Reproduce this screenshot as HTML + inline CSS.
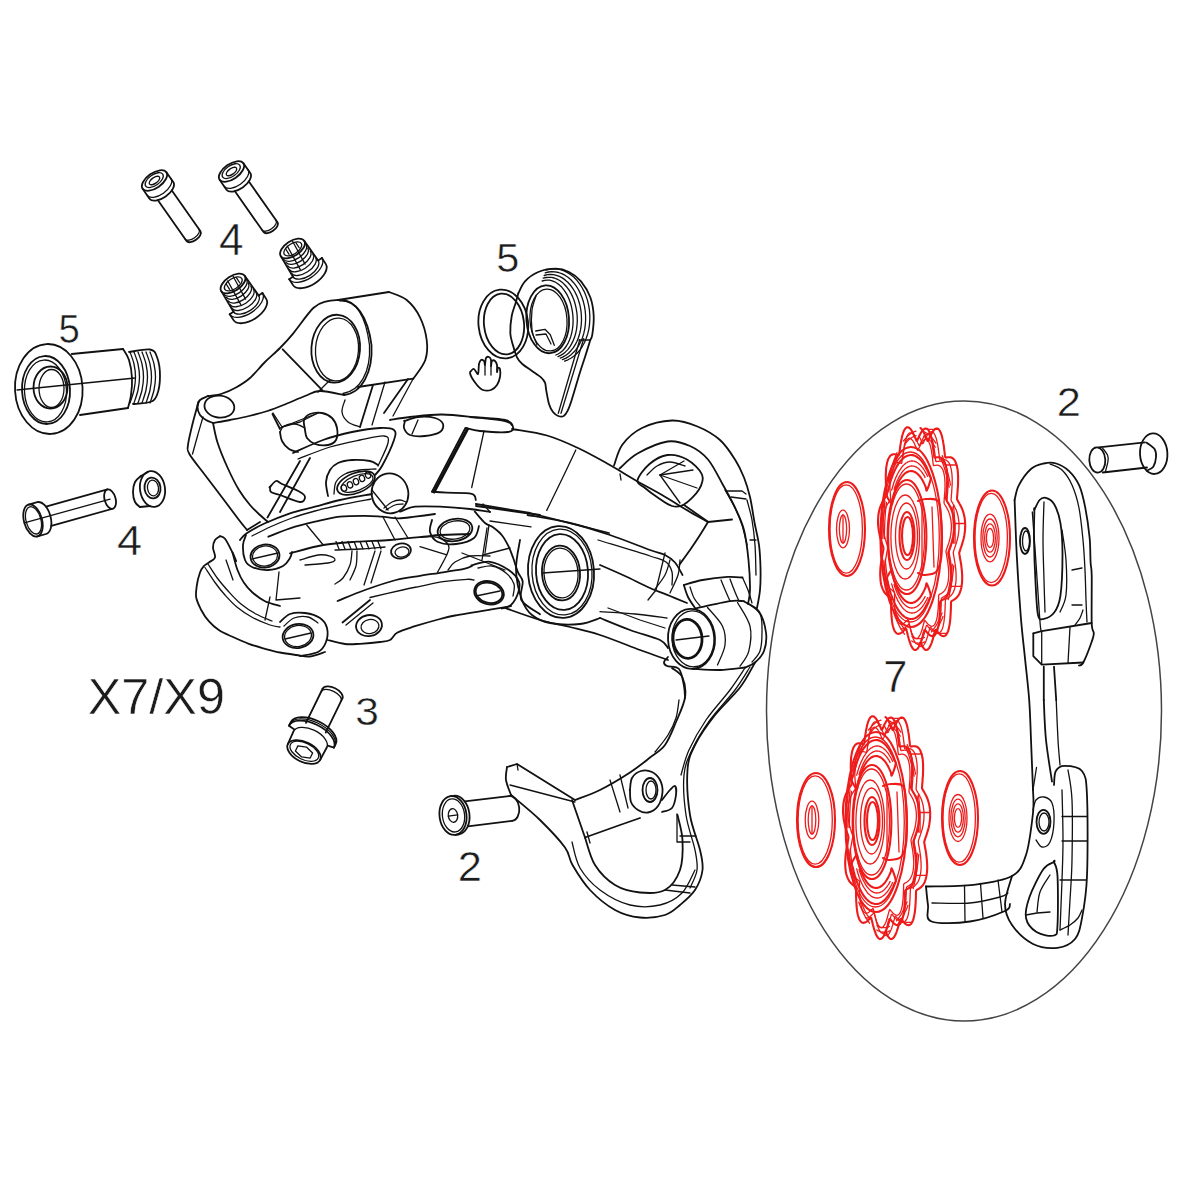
<!DOCTYPE html>
<html><head><meta charset="utf-8"><style>
html,body{margin:0;padding:0;background:#fff;width:1200px;height:1200px;overflow:hidden}
svg{display:block}
text{font-family:"Liberation Sans",sans-serif;fill:#1c1c1c}
.lb{stroke:#fff;stroke-width:0.5px;vector-effect:non-scaling-stroke}
.k{fill:none;stroke:#111;stroke-width:1.8;stroke-linejoin:round;stroke-linecap:round}
.r{fill:none;stroke:#ee1b1b;stroke-width:2.1;stroke-linejoin:round;stroke-linecap:round}
.t{stroke-width:1.3}
.thin{stroke:#444;stroke-width:1.5}
</style></head><body>
<svg width="1200" height="1200" viewBox="0 0 1200 1200">
<ellipse class="k thin" cx="964" cy="711" rx="197.5" ry="310"/>
<path class="r" d="M920.5,428 L921,428.5 L921.6,429.1 L922.1,429.8 L922.7,430.6 L923.2,431.5 L923.8,432.5 L924.3,433.5 L924.8,434.6 L925.3,435.7 L925.8,436.9 L926.3,438 L926.8,439.1 L927.2,440.1 L927.7,441 L928.1,440.4 L928.6,439.5 L929.1,438.5 L929.6,437.4 L930.1,436.3 L930.6,435.3 L931.2,434.3 L931.7,433.3 L932.3,432.4 L932.8,431.5 L933.4,430.8 L933.9,430.1 L934.5,429.5 L935.1,429.1 L935.6,428.8 L936.2,428.6 L936.7,428.5 L937.3,428.5 L937.8,428.7 L938.4,429.1 L938.9,429.5 L939.4,430.1 L939.8,430.9 L940.3,431.7 L940.8,432.7 L941.2,433.8 L941.6,435 L942,436.4 L942.3,437.8 L942.6,439.2 L943,440.8 L943.2,442.4 L943.5,444.1 L943.8,445.8 L944,447.5 L944.2,449.3 L944.4,451 L944.6,452.7 L944.8,454.4 L945,456 L945.3,457.4 L945.8,457.6 L946.3,457.5 L946.9,457.4 L947.6,457.3 L948.2,457.3 L948.8,457.2 L949.4,457.2 L950.1,457.2 L950.7,457.4 L951.3,457.5 L951.9,457.8 L952.5,458.1 L953.1,458.6 L953.7,459.1 L954.2,459.7 L954.7,460.5 L955.2,461.3 L955.6,462.2 L956,463.3 L956.4,464.4 L956.8,465.6 L957.1,466.9 L957.3,468.3 L957.6,469.7 L957.8,471.3 L957.9,472.9 L958,474.5 L958.1,476.3 L958.1,478 L958.1,479.8 L958.1,481.6 L958,483.4 L958,485.3 L957.9,487.1 L957.7,488.9 L957.6,490.8 L957.5,492.5 L957.3,494.3 L957.2,496 L957,497.7 L957,499.2 L957.4,500.1 L957.9,501 L958.4,501.9 L959,502.8 L959.5,503.7 L960.1,504.7 L960.6,505.7 L961.1,506.7 L961.6,507.8 L962.1,508.9 L962.6,510.1 L963,511.4 L963.4,512.7 L963.8,514 L964.1,515.4 L964.4,516.8 L964.7,518.3 L964.9,519.8 L965,521.3 L965.1,522.8 L965.2,524.4 L965.2,526 L965.1,527.6 L965.1,529.2 L964.9,530.8 L964.8,532.3 L964.5,533.9 L964.3,535.5 L964,537 L963.7,538.5 L963.3,540 L962.9,541.4 L962.5,542.8 L962.1,544.2 L961.6,545.6 L961.2,546.9 L960.7,548.1 L960.3,549.4 L959.9,550.6 L959.5,551.8 L959.2,553 L959.4,554.5 L959.7,556 L959.9,557.6 L960.2,559.2 L960.5,560.8 L960.8,562.5 L961.1,564.2 L961.3,565.9 L961.5,567.7 L961.7,569.4 L961.9,571.1 L962,572.9 L962.1,574.6 L962.2,576.3 L962.2,578 L962.2,579.6 L962.1,581.3 L962,582.8 L961.8,584.4 L961.6,585.8 L961.4,587.2 L961.1,588.6 L960.8,589.8 L960.4,591 L960,592.2 L959.6,593.2 L959.1,594.2 L958.6,595.1 L958.1,595.9 L957.5,596.6 L956.9,597.3 L956.4,597.9 L955.7,598.4 L955.1,598.9 L954.5,599.3 L953.9,599.7 L953.3,600.1 L952.7,600.4 L952.1,600.7 L951.6,601.1 L951.1,601.8 L951,603.4 L951,605.1 L950.9,606.9 L950.9,608.7 L950.8,610.5 L950.7,612.4 L950.6,614.2 L950.5,616 L950.4,617.8 L950.2,619.6 L950.1,621.3 L949.8,623 L949.6,624.6 L949.3,626.1 L949,627.6 L948.7,628.9 L948.4,630.2 L948,631.3 L947.6,632.3 L947.1,633.2 L946.7,634 L946.2,634.7 L945.7,635.2 L945.1,635.7 L944.6,635.9 L944,636.1 L943.4,636.2 L942.9,636.1 L942.3,635.9 L941.7,635.7 L941.1,635.3 L940.4,634.9 L939.8,634.3 L939.2,633.8 L938.6,633.1 L938.1,632.5 L937.5,631.8 L936.9,631.1 L936.4,630.5 L935.8,629.9 L935.4,630 L935,631.2 L934.6,632.5 L934.2,633.9 L933.9,635.4 L933.5,636.8 L933.1,638.2 L932.7,639.7 L932.2,641 L931.8,642.3 L931.3,643.6 L930.8,644.7 L930.4,645.8 L929.9,646.7 L929.4,647.6 L928.9,648.3 L928.3,648.9 L927.8,649.4 L927.3,649.7 L926.7,649.9 L926.2,650 L925.7,649.9 L925.1,649.7 L924.6,649.3 L924.1,648.8 L923.6,648.1 L923.1,647.4 L922.6,646.5 L922.1,645.5 L921.6,644.4 L921.2,643.2 L920.7,641.9"/><path class="r" d="M953,537 L952.6,538.7 L952.2,540.3 L951.8,542 L951.3,543.5 L950.8,545.1 L950.3,546.5 L949.8,548 L949.3,549.4 L948.8,550.7 L948.4,552.1 L948.3,553.6 L948.5,555.3 L948.8,557 L949.2,558.8 L949.5,560.6 L949.8,562.5 L950.1,564.4 L950.4,566.4 L950.6,568.3 L950.8,570.3 L951,572.2 L951.1,574.2 L951.2,576.1 L951.2,578 L951.2,579.8 L951.1,581.7 L950.9,583.4 L950.8,585.1 L950.5,586.7 L950.2,588.2 L949.8,589.7 L949.4,591 L949,592.3 L948.5,593.5 L947.9,594.5 L947.3,595.5 L946.7,596.4 L946.1,597.1 L945.4,597.8 L944.7,598.4 L944.1,599 L943.4,599.4 L942.7,599.8 L942,600.2 L941.3,600.6 L940.7,601 L940.2,601.6 L940,603.4 L940,605.3 L939.9,607.3 L939.8,609.4 L939.8,611.4 L939.7,613.5 L939.6,615.6 L939.4,617.6 L939.2,619.6 L939,621.6 L938.8,623.4 L938.5,625.2 L938.2,626.9 L937.8,628.4 L937.5,629.9 L937,631.2 L936.6,632.3 L936.1,633.3 L935.5,634.2 L935,634.9 L934.4,635.5 L933.8,635.9 L933.2,636.1 L932.5,636.2 L931.9,636.1 L931.2,635.9 L930.5,635.6 L929.8,635.1 L929.1,634.6 L928.5,634 L927.8,633.3 L927.1,632.6 L926.5,631.8 L925.8,631 L925.2,630.3 L924.6,629.8 L924.2,630.6 L923.8,632 L923.3,633.6 L922.9,635.2 L922.5,636.8 L922,638.4 L921.5,640 L921.1,641.5 L920.6,642.9 L920,644.3 L919.5,645.5 L918.9,646.6 L918.4,647.6 L917.8,648.4 L917.2,649 L916.6,649.5 L916,649.8 L915.4,650 L914.8,649.9 L914.2,649.7 L913.6,649.3 L913,648.7 L912.4,648 L911.9,647.1 L911.3,646 L910.8,644.8 L910.3,643.5 L909.8,642.1 L909.3,640.6 L908.8,639 L908.4,637.4 L907.9,635.7 L907.5,634 L907.1,632.3 L906.7,630.7 L906.4,629.3 L905.9,628.6 L905.3,629.1 L904.7,629.7 L904,630.4 L903.3,631 L902.7,631.7 L902,632.3 L901.3,632.8 L900.6,633.2 L899.9,633.6 L899.2,633.8 L898.6,633.9 L897.9,633.8 L897.3,633.7 L896.6,633.3 L896,632.8 L895.5,632.2 L894.9,631.4 L894.4,630.5 L893.9,629.4 L893.5,628.1 L893.1,626.8 L892.7,625.3 L892.4,623.6 L892.1,621.9 L891.9,620.1 L891.7,618.2 L891.5,616.2 L891.4,614.2 L891.2,612.1 L891.2,610.1 L891.1,608 L891.1,605.9 L891,603.8 L891,601.8 L890.9,599.9 L890.9,598.2 L890.3,597.6 L889.7,597.1 L889,596.6 L888.3,596.2 L887.6,595.6 L886.9,595.1 L886.3,594.4 L885.6,593.7 L884.9,593 L884.3,592.1 L883.7,591.1 L883.2,590.1 L882.6,588.9 L882.2,587.7 L881.7,586.4 L881.3,585 L881,583.5 L880.7,581.9 L880.5,580.2 L880.4,578.5 L880.3,576.7 L880.2,574.9 L880.2,573 L880.3,571.1 L880.4,569.2 L880.5,567.3 L880.7,565.4 L881,563.4 L881.3,561.5 L881.6,559.6 L881.9,557.8 L882.2,555.9 L882.6,554.2 L882.9,552.4 L883.2,550.7 L883.5,549.1 L883.4,547.6 L883,546.2 L882.5,544.8 L882,543.3 L881.5,541.8 L881.1,540.2 L880.6,538.6 L880.1,537 L879.7,535.3 L879.4,533.6 L879,531.9 L878.7,530.1 L878.5,528.3 L878.3,526.5 L878.1,524.7 L878,522.9 L878,521.1 L878.1,519.3 L878.2,517.6 L878.3,515.9 L878.5,514.2 L878.8,512.5 L879.1,511 L879.5,509.4 L879.9,508 L880.4,506.6 L880.9,505.3 L881.5,504 L882,502.8 L882.6,501.7 L883.3,500.6 L883.9,499.6 L884.5,498.6 L885.1,497.7 L885.7,496.8 L886.3,495.9 L886.6,494.7 L886.6,492.9 L886.4,491 L886.3,489 L886.2,487 L886,484.9 L885.9,482.8 L885.9,480.7 L885.8,478.7 L885.8,476.6 L885.8,474.6 L885.9,472.6 L886,470.7 L886.1,468.8 L886.3,467.1 L886.6,465.4 L886.9,463.8 L887.2,462.3 L887.6,461 L888,459.7 L888.5,458.6 L889,457.6 L889.6,456.8 L890.1,456 L890.8,455.4 L891.4,455 L892.1,454.6 L892.8,454.4 L893.5,454.3 L894.2,454.2 L894.9,454.3 L895.6,454.4 L896.3,454.6 L897,454.8 L897.7,455 L898.3,455.1 L898.9,455.1 L899.2,453.7 L899.5,451.9 L899.8,450.1 L900,448.2 L900.3,446.2 L900.6,444.3 L900.9,442.4 L901.2,440.6 L901.6,438.8 L901.9,437.1 L902.3,435.5 L902.8,434 L903.2,432.6 L903.7,431.4 L904.2,430.3 L904.7,429.4 L905.3,428.6 L905.9,428 L906.4,427.6 L907,427.3 L907.7,427.3 L908.3,427.4 L908.9,427.6 L909.5,428.1 L910.2,428.6 L910.8,429.4 L911.4,430.2 L912,431.2 L912.6,432.3 L913.2,433.4 L913.8,434.6 L914.4,435.9 L914.9,437.1 L915.5,438.4 L916,439.6 L916.5,440.7 L917,440.6 L917.6,439.6 L918.1,438.5 L918.7,437.3 L919.2,436.1 L919.8,434.9 L920.4,433.8 L921,432.7 L921.7,431.7 L922.3,430.9 L922.9,430.1 L923.6,429.5 L924.2,429 L924.8,428.7 L925.5,428.5 L926.1,428.5 L926.7,428.7 L927.3,429 L927.9,429.5 L928.4,430.2 L929,431.1 L929.5,432.1 L930,433.3 L930.4,434.6 L930.9,436 L931.3,437.6 L931.6,439.2 L932,441 L932.3,442.8 L932.6,444.7 L932.9,446.7 L933.1,448.6 L933.4,450.6 L933.6,452.5 L933.8,454.4 L934.1,456.2 L934.4,457.5 L935,457.6 L935.6,457.5 L936.3,457.4 L937,457.3 L937.7,457.2 L938.4,457.2 L939.2,457.3 L939.9,457.4 L940.6,457.6 L941.2,458 L941.9,458.4 L942.5,459 L943.1,459.7 L943.7,460.5 L944.2,461.4 L944.7,462.5 L945.2,463.7 L945.6,465 L946,466.4 L946.3,467.9 L946.5,469.6 L946.8,471.3 L946.9,473.1 L947,475 L947.1,476.9 L947.1,478.9 L947.1,480.9 L947.1,483 L947,485 L946.9,487.1 L946.7,489.2 L946.6,491.2 L946.4,493.2 L946.2,495.2 L946.1,497 L946,498.8 L946.4,500 L946.9,501 L947.5,502 L948.1,503 L948.7,504 L949.3,505.1 L949.9,506.3 L950.5,507.5 L951.1,508.8 L951.6,510.1 L952.1,511.5 L952.5,513 L952.9,514.5 L953.3,516.1 L953.6,517.7 L953.8,519.4 L954,521.1 L954.1,522.8 L954.2,524.6 L954.2,526.4 L954.1,528.2 L954,530 L953.8,531.8 L953.6,533.5 L953.3,535.3Z"/><path class="r t" d="M902.7,456.7 L903,455.2 L903.2,453.6 L903.4,452 L903.6,450.4 L903.9,448.8 L904.1,447.2 L904.4,445.6 L904.7,444.1 L905,442.6 L905.3,441.2 L905.7,439.9 L906.1,438.7 L906.5,437.6 L906.9,436.5 L907.3,435.6 L907.7,434.8 L908.2,434.2 L908.7,433.6 L909.2,433.2 L909.7,432.9 L910.2,432.8 L910.7,432.8 L911.2,432.9 L911.8,433.1 L912.3,433.5 L912.8,433.9 L913.4,434.5 L913.9,435.2 L914.4,436 L914.9,436.8 L915.4,437.7 L915.9,438.7 L916.4,439.7 L916.9,440.8 L917.4,441.9 L917.8,442.9 L918.3,444 L918.7,444.9 L919.1,445.8 L919.6,445.2 L920,444.3 L920.5,443.4 L921,442.4 L921.5,441.4 L922,440.4 L922.5,439.4 L923,438.5 L923.5,437.6 L924,436.8 L924.5,436.1 L925.1,435.5 L925.6,434.9 L926.2,434.5 L926.7,434.2 L927.2,434 L927.8,433.9 L928.3,434 L928.8,434.2 L929.3,434.5 L929.8,434.9 L930.2,435.5 L930.7,436.2 L931.1,437 L931.6,437.9 L932,439 L932.3,440.1 L932.7,441.4 L933,442.7 L933.4,444.1 L933.7,445.6 L933.9,447.2 L934.2,448.7 L934.4,450.4 L934.6,452 L934.9,453.7 L935.1,455.3 L935.2,456.9 L935.4,458.5 L935.6,460 L935.8,461.4 L936.3,461.5 L936.9,461.5 L937.4,461.4 L938,461.3 L938.6,461.3 L939.2,461.2 L939.8,461.2 L940.4,461.2 L941,461.3 L941.6,461.5 L942.2,461.8 L942.8,462.1 L943.3,462.5 L943.8,463 L944.3,463.6 L944.8,464.3 L945.3,465.1 L945.7,466 L946.1,466.9 L946.5,468 L946.8,469.2 L947.1,470.4 L947.3,471.7 L947.5,473.1 L947.7,474.6 L947.9,476.1 L948,477.7 L948,479.3 L948.1,481 L948.1,482.7 L948,484.4 L948,486.1 L947.9,487.9 L947.8,489.6 L947.7,491.3 L947.6,493.1 L947.4,494.8 L947.3,496.4 L947.2,498.1 L947,499.6 L947,501.1 L947.4,501.9 L947.9,502.8 L948.4,503.6 L948.9,504.5 L949.4,505.4 L949.9,506.3 L950.4,507.2 L950.9,508.2 L951.4,509.3 L951.9,510.3 L952.3,511.5 L952.7,512.7 L953.1,513.9 L953.4,515.2 L953.8,516.5 L954,517.8 L954.3,519.2 L954.5,520.6 L954.6,522.1 L954.7,523.5 L954.8,525 L954.8,526.5 L954.7,528 L954.7,529.6 L954.5,531.1 L954.4,532.6 L954.2,534.1 L953.9,535.5 L953.6,537 L953.3,538.4 L953,539.8 L952.6,541.2 L952.2,542.5 L951.8,543.9 L951.4,545.1 L951,546.4 L950.6,547.6 L950.1,548.8 L949.7,549.9 L949.4,551 L949.1,552.2 L949.3,553.6 L949.5,555.1 L949.8,556.6 L950.1,558.1 L950.3,559.7 L950.6,561.2 L950.8,562.8 L951.1,564.5 L951.3,566.1 L951.5,567.8 L951.6,569.4 L951.8,571.1 L951.9,572.7 L951.9,574.3 L951.9,575.9 L951.9,577.5 L951.9,579 L951.7,580.5 L951.6,582 L951.4,583.4 L951.2,584.7 L950.9,586 L950.6,587.2 L950.3,588.3 L949.9,589.4 L949.5,590.4 L949,591.3 L948.5,592.2 L948,593 L947.5,593.7 L946.9,594.3 L946.4,594.9 L945.8,595.4 L945.2,595.8 L944.6,596.2 L944.1,596.6 L943.5,596.9 L942.9,597.2 L942.4,597.6 L941.8,597.9 L941.4,598.6 L941.3,600.1 L941.3,601.7 L941.2,603.4 L941.2,605.1 L941.1,606.8 L941,608.6 L941,610.3 L940.8,612.1 L940.7,613.8 L940.6,615.5 L940.4,617.1 L940.2,618.7 L940,620.2 L939.7,621.7 L939.4,623 L939.1,624.3 L938.8,625.5 L938.4,626.6 L938,627.6 L937.6,628.4 L937.2,629.2 L936.7,629.8 L936.2,630.3 L935.7,630.7 L935.2,631 L934.7,631.2 L934.1,631.2 L933.6,631.2 L933,631 L932.4,630.7 L931.8,630.4 L931.3,630 L930.7,629.5 L930.1,628.9 L929.6,628.3 L929,627.7 L928.4,627.1 L927.9,626.4 L927.4,625.8 L926.9,625.3 L926.4,625.4 L926.1,626.5 L925.7,627.8 L925.4,629.1 L925,630.5 L924.7,631.8 L924.3,633.2 L923.9,634.5 L923.5,635.8 L923,637.1 L922.6,638.2 L922.2,639.3 L921.7,640.3 L921.2,641.2 L920.7,642.1 L920.3,642.7 L919.8,643.3 L919.3,643.8 L918.8,644.1 L918.2,644.3 L917.7,644.3 L917.2,644.2 L916.7,644 L916.2,643.7 L915.7,643.2 L915.2,642.6 L914.8,641.9 L914.3,641 L913.8,640.1 L913.4,639 L912.9,637.9 L912.5,636.7 L912.1,635.4 L911.7,634.1 L911.3,632.7 L911,631.3 L910.6,629.9 L910.3,628.4 L910,627.1 L909.6,625.7 L909.3,624.5 L908.9,624 L908.4,624.4 L907.9,624.9 L907.3,625.5 L906.8,626 L906.2,626.6 L905.6,627.1 L905,627.6 L904.5,628.1 L903.9,628.4 L903.3,628.7 L902.7,628.9 L902.1,629 L901.6,629 L901,628.9 L900.5,628.7"/><path class="r t" d="M919,435.9 L919.5,436.8 L919.9,437.8 L920.4,438.9 L920.9,439.9 L921.3,441 L921.8,442 L922.2,442.9 L922.6,443.7 L923,443.5 L923.5,442.6 L923.9,441.7 L924.4,440.8 L924.8,439.8 L925.3,438.8 L925.8,437.8 L926.3,436.9 L926.8,436 L927.3,435.2 L927.8,434.5 L928.3,433.8 L928.8,433.2 L929.4,432.7 L929.9,432.3 L930.4,432 L930.9,431.8 L931.4,431.7 L931.9,431.8 L932.4,432 L932.9,432.2 L933.4,432.6 L933.9,433.2 L934.3,433.8 L934.7,434.5 L935.1,435.4 L935.5,436.4 L935.9,437.4 L936.3,438.6 L936.6,439.8 L936.9,441.2 L937.2,442.6 L937.5,444 L937.8,445.5 L938,447.1 L938.3,448.6 L938.5,450.2 L938.7,451.8 L938.9,453.4 L939.1,455 L939.3,456.6 L939.4,458 L939.6,459.4 L940,459.9 L940.5,459.9 L941.1,459.9 L941.6,459.8 L942.2,459.7 L942.8,459.6 L943.4,459.6 L944,459.6 L944.5,459.7 L945.1,459.8 L945.7,459.9 L946.2,460.2 L946.8,460.5 L947.3,460.9 L947.8,461.4 L948.3,462 L948.8,462.6 L949.3,463.4 L949.7,464.2 L950.1,465.2 L950.4,466.2 L950.7,467.3 L951,468.4 L951.3,469.7 L951.5,471 L951.7,472.4 L951.9,473.8 L952,475.3 L952.1,476.8 L952.2,478.4 L952.2,480 L952.2,481.7 L952.2,483.4 L952.1,485 L952,486.7 L951.9,488.4 L951.8,490.1 L951.7,491.8 L951.6,493.4 L951.4,495.1 L951.3,496.7 L951.2,498.2 L951.1,499.7 L951.3,500.8 L951.7,501.6 L952.2,502.4 L952.7,503.2 L953.2,504.1 L953.7,504.9 L954.2,505.8 L954.7,506.7 L955.1,507.7 L955.6,508.7 L956.1,509.8 L956.5,510.9 L956.9,512 L957.3,513.2 L957.6,514.4 L957.9,515.7 L958.2,517 L958.4,518.3 L958.6,519.7 L958.8,521.1 L958.9,522.5 L959,523.9 L959,525.4 L959,526.9 L959,528.3 L958.9,529.8 L958.8,531.3 L958.6,532.7 L958.4,534.2 L958.2,535.6 L957.9,537 L957.6,538.4 L957.3,539.8 L956.9,541.1 L956.5,542.4 L956.1,543.7 L955.7,544.9 L955.3,546.1 L954.9,547.3 L954.5,548.5 L954.1,549.6 L953.7,550.7 L953.4,551.8 L953.3,553 L953.5,554.4 L953.7,555.8 L954,557.3 L954.3,558.8 L954.5,560.3 L954.8,561.8 L955,563.4 L955.3,565 L955.5,566.6 L955.6,568.2 L955.8,569.8 L955.9,571.4 L956,573 L956.1,574.5 L956.1,576.1 L956.1,577.6 L956.1,579.2 L956,580.6 L955.9,582.1 L955.7,583.4 L955.5,584.8 L955.3,586.1 L955,587.3 L954.7,588.4 L954.4,589.5 L954,590.6 L953.6,591.5 L953.2,592.4 L952.7,593.3 L952.2,594 L951.7,594.7 L951.2,595.3 L950.6,595.9 L950.1,596.4 L949.5,596.9 L949,597.3 L948.4,597.6 L947.8,598 L947.3,598.3 L946.7,598.6 L946.2,598.9 L945.7,599.3 L945.4,600.2 L945.3,601.7 L945.3,603.2 L945.2,604.9 L945.1,606.5 L945.1,608.2 L945,609.9 L944.9,611.6 L944.8,613.3 L944.7,615 L944.6,616.6 L944.4,618.2 L944.2,619.8 L944,621.3 L943.8,622.7 L943.5,624.1 L943.3,625.4 L943,626.6 L942.6,627.7 L942.3,628.7 L941.9,629.7 L941.5,630.5 L941,631.2 L940.6,631.8 L940.1,632.3 L939.6,632.7 L939.1,633 L938.6,633.1 L938.1,633.2 L937.5,633.2 L937,633 L936.4,632.8 L935.9,632.5 L935.3,632.1 L934.7,631.7 L934.2,631.2 L933.6,630.6 L933.1,630 L932.5,629.4 L932,628.8 L931.5,628.2 L931,627.6 L930.5,627.1 L930.1,627.3 L929.7,628.4 L929.4,629.6 L929.1,630.9 L928.7,632.2 L928.4,633.5 L928,634.9 L927.6,636.2 L927.2,637.4 L926.8,638.7 L926.4,639.8 L926,640.9 L925.5,642 L925.1,642.9 L924.6,643.7 L924.1,644.5 L923.7,645.1 L923.2,645.7 L922.7,646.1 L922.2,646.4 L921.7,646.5 L921.2,646.6 L920.7,646.5 L920.2,646.3 L919.7,646 L919.3,645.5 L918.8,645"/><path class="r t" d="M954.1,523.5 L965.1,523.5"/><path class="r t" d="M950.6,586.3 L961.6,586.3"/><path class="r t" d="M936,633.4 L947,633.4"/><path class="r t" d="M927.7,429.3 L938.7,429.3"/><path class="r t" d="M945.6,465 L956.6,465"/><path class="r t" d="M952,506.9 L952.5,511.3 L952.8,515.8 L953.1,520.3 L953.3,524.8 L953.5,529.4 L953.6,533.9 L953.6,538.5 L953.5,543.1"/><path class="r t" d="M953.5,505.6 L953.9,510.2 L954.3,514.9 L954.6,519.6 L954.9,524.3 L955,529 L955.1,533.8 L955.1,538.6 L955,543.4"/><path class="r t" d="M952.3,564.2 L951.9,568.6 L951.3,572.9 L950.8,577.2 L950.1,581.3 L949.4,585.4 L948.6,589.4 L947.8,593.3 L946.9,597"/><path class="r t" d="M953.8,565.5 L953.3,570 L952.8,574.5 L952.2,579 L951.5,583.3 L950.8,587.6 L950,591.7 L949.1,595.8 L948.2,599.7"/><path class="r t" d="M942,612.9 L940.8,615.9 L939.6,618.7 L938.3,621.3 L937,623.8 L935.7,626.1 L934.3,628.2 L932.9,630.1 L931.5,631.9"/><path class="r t" d="M943,616.3 L941.8,619.4 L940.5,622.3 L939.2,625.1 L937.8,627.6 L936.4,630 L935,632.3 L933.5,634.3 L932,636.1"/><path class="r t" d="M924.4,637.4 L922.9,638.1 L921.3,638.5 L919.8,638.7 L918.2,638.7 L916.7,638.5 L915.1,638.1 L913.6,637.4 L912,636.6"/><path class="r t" d="M924.7,641.9 L923,642.6 L921.4,643 L919.8,643.2 L918.2,643.2 L916.6,643 L914.9,642.5 L913.3,641.9 L911.7,641"/><path class="r t" d="M905.1,630.1 L903.7,628.2 L902.3,626.1 L901,623.8 L899.6,621.3 L898.4,618.6 L897.2,615.8 L896,612.9 L894.8,609.7"/><path class="r t" d="M904.5,634.2 L903,632.2 L901.6,630 L900.2,627.6 L898.8,625 L897.5,622.3 L896.2,619.3 L894.9,616.2 L893.8,613"/><path class="r t" d="M890.2,593.2 L889.4,589.3 L888.6,585.4 L887.9,581.3 L887.2,577.1 L886.6,572.9 L886.1,568.6 L885.7,564.2 L885.3,559.7"/><path class="r t" d="M888.9,595.7 L888,591.7 L887.2,587.5 L886.5,583.3 L885.8,578.9 L885.2,574.5 L884.7,570 L884.2,565.4 L883.8,560.8"/><path class="r t" d="M884.4,538.5 L884.4,533.9 L884.5,529.3 L884.7,524.8 L884.9,520.2 L885.2,515.7 L885.5,511.3 L886,506.9 L886.5,502.5"/><path class="r t" d="M882.9,538.5 L882.9,533.8 L883,529 L883.1,524.2 L883.4,519.5 L883.7,514.8 L884.1,510.1 L884.5,505.5 L885,501"/><path class="r t" d="M889.6,483.3 L890.5,479.4 L891.4,475.7 L892.4,472.1 L893.4,468.7 L894.5,465.3 L895.6,462.2 L896.8,459.1 L898,456.3"/><path class="r t" d="M888.3,480.9 L889.2,476.9 L890.2,473 L891.2,469.2 L892.3,465.6 L893.4,462.2 L894.5,458.8 L895.8,455.7 L897,452.7"/><path class="r t" d="M904.2,445.1 L905.6,443.2 L907.1,441.6 L908.5,440.1 L910,438.8 L911.5,437.7 L913.1,436.8 L914.6,436.1 L916.1,435.6"/><path class="r t" d="M903.5,441 L905,439.1 L906.5,437.3 L908.1,435.8 L909.6,434.4 L911.2,433.3 L912.8,432.4 L914.4,431.6 L916,431.1"/><path class="r t" d="M923.4,436.1 L925,436.8 L926.5,437.7 L928,438.8 L929.5,440.1 L931,441.6 L932.4,443.3 L933.8,445.1 L935.2,447.2"/><path class="r t" d="M923.6,431.7 L925.2,432.4 L926.8,433.3 L928.4,434.4 L930,435.8 L931.5,437.3 L933,439.1 L934.5,441.1 L935.9,443.2"/><path class="r t" d="M941.3,459.2 L942.4,462.2 L943.6,465.4 L944.6,468.7 L945.6,472.2 L946.6,475.8 L947.5,479.5 L948.4,483.3 L949.2,487.2"/><path class="r t" d="M942.3,455.7 L943.5,458.9 L944.6,462.2 L945.8,465.7 L946.8,469.3 L947.8,473 L948.8,476.9 L949.7,480.9 L950.5,485"/><path class="r t" d="M950.3,537 L950,538.5 L949.6,540 L949.2,541.5 L948.8,542.9 L948.3,544.3 L947.9,545.6 L947.4,546.9 L947,548.1 L946.5,549.4 L946.1,550.6 L946,551.9 L946.3,553.4 L946.6,555 L946.8,556.6 L947.1,558.3 L947.4,560 L947.7,561.7 L947.9,563.4 L948.1,565.2 L948.3,566.9 L948.5,568.7 L948.6,570.4 L948.7,572.2 L948.7,573.9 L948.7,575.6 L948.6,577.2 L948.5,578.8 L948.3,580.3 L948.1,581.7 L947.8,583.1 L947.5,584.4 L947.1,585.6 L946.7,586.8 L946.2,587.8 L945.7,588.8 L945.2,589.7 L944.7,590.4 L944.1,591.1 L943.5,591.7 L942.9,592.3 L942.3,592.8 L941.6,593.2 L941,593.6 L940.4,593.9 L939.8,594.2 L939.2,594.6 L938.7,595.2 L938.6,596.8 L938.6,598.5 L938.5,600.3 L938.5,602.1 L938.4,604 L938.3,605.9 L938.2,607.7 L938.1,609.6 L937.9,611.4 L937.7,613.1 L937.5,614.8 L937.3,616.4 L937,617.9 L936.7,619.3 L936.3,620.6 L935.9,621.8 L935.5,622.8 L935.1,623.7 L934.6,624.5 L934.1,625.1 L933.6,625.6 L933,626 L932.4,626.2 L931.9,626.3 L931.3,626.2 L930.7,626 L930.1,625.7 L929.4,625.3 L928.8,624.8 L928.2,624.3 L927.6,623.7 L927,623 L926.4,622.3 L925.9,621.6 L925.3,621 L924.8,620.5 L924.4,621.2 L924,622.5 L923.6,623.9 L923.2,625.4 L922.8,626.8 L922.4,628.3 L922,629.7 L921.6,631.1 L921.1,632.4 L920.6,633.6 L920.1,634.7 L919.6,635.7 L919.1,636.5 L918.6,637.3 L918.1,637.8 L917.5,638.3 L917,638.6 L916.5,638.7 L915.9,638.6 L915.4,638.4 L914.8,638.1 L914.3,637.5 L913.8,636.9 L913.3,636.1 L912.8,635.1 L912.3,634 L911.8,632.9 L911.4,631.6 L911,630.2 L910.5,628.8 L910.1,627.3 L909.8,625.8 L909.4,624.3 L909,622.8 L908.7,621.4 L908.3,620 L907.9,619.4 L907.4,619.9 L906.8,620.4 L906.2,621 L905.6,621.6 L905,622.2 L904.4,622.7 L903.8,623.2 L903.1,623.6 L902.5,623.9 L901.9,624.1 L901.3,624.2 L900.7,624.2 L900.1,624 L899.6,623.7 L899,623.3 L898.5,622.7 L898,622 L897.6,621.1 L897.1,620.1 L896.7,619 L896.4,617.8 L896.1,616.4 L895.8,615 L895.5,613.4 L895.3,611.8 L895.1,610.1 L894.9,608.3 L894.8,606.5 L894.7,604.6 L894.6,602.7 L894.6,600.9 L894.6,599 L894.5,597.2 L894.5,595.4 L894.5,593.6 L894.4,592.1 L893.9,591.5 L893.3,591.1 L892.7,590.7 L892.1,590.2 L891.5,589.8 L890.9,589.3 L890.2,588.7 L889.6,588.1 L889.1,587.4 L888.5,586.6 L888,585.7 L887.4,584.8 L887,583.8 L886.5,582.6 L886.2,581.4 L885.8,580.2 L885.5,578.8 L885.3,577.4 L885.1,575.9 L884.9,574.4 L884.8,572.8 L884.8,571.1 L884.8,569.4 L884.8,567.7 L884.9,566 L885.1,564.3 L885.3,562.5 L885.5,560.8 L885.7,559.1 L886,557.4 L886.3,555.7 L886.6,554.1 L886.9,552.4 L887.2,550.9 L887.5,549.3 L887.8,547.9 L887.6,546.5 L887.3,545.3 L886.8,544 L886.4,542.7 L886,541.3 L885.5,539.9 L885.1,538.5 L884.7,537 L884.4,535.5 L884,534 L883.7,532.4 L883.4,530.8 L883.2,529.2 L883,527.6 L882.9,525.9 L882.8,524.3 L882.8,522.7 L882.9,521.1 L882.9,519.5 L883.1,518 L883.3,516.5 L883.5,515 L883.8,513.6 L884.2,512.2 L884.5,510.9 L885,509.6 L885.4,508.4 L885.9,507.3 L886.4,506.2 L887,505.2 L887.5,504.2 L888.1,503.3 L888.7,502.5 L889.2,501.6 L889.7,500.8 L890.3,500 L890.6,498.9 L890.5,497.3 L890.4,495.6 L890.3,493.8 L890.2,492 L890,490.1 L889.9,488.2 L889.9,486.4 L889.8,484.5 L889.8,482.7 L889.8,480.8 L889.9,479.1 L890,477.3 L890.1,475.7 L890.3,474.1 L890.5,472.5 L890.8,471.1 L891.1,469.8 L891.4,468.6 L891.8,467.4 L892.2,466.4 L892.7,465.5 L893.2,464.8 L893.7,464.1 L894.3,463.6 L894.9,463.2 L895.5,462.9 L896.1,462.7 L896.7,462.5 L897.4,462.5 L898,462.6 L898.6,462.7 L899.3,462.8 L899.9,463 L900.5,463.2 L901.1,463.3 L901.6,463.3 L901.9,462 L902.2,460.4 L902.4,458.8 L902.6,457 L902.8,455.3 L903.1,453.6 L903.4,451.9 L903.7,450.2 L904,448.6 L904.3,447.1 L904.7,445.6 L905.1,444.3 L905.5,443.1 L905.9,441.9 L906.4,441 L906.9,440.1 L907.4,439.4 L907.9,438.9 L908.4,438.5 L908.9,438.3 L909.5,438.2 L910.1,438.3 L910.6,438.6 L911.2,439 L911.7,439.5 L912.3,440.1 L912.9,440.9 L913.4,441.8 L914,442.7 L914.5,443.8 L915,444.9 L915.5,446 L916,447.1 L916.5,448.3 L917,449.3 L917.5,450.3 L917.9,450.2 L918.4,449.3 L918.9,448.3 L919.4,447.2 L919.9,446.2 L920.4,445.1 L921,444.1 L921.5,443.1 L922.1,442.3 L922.7,441.5 L923.2,440.8 L923.8,440.2 L924.4,439.8 L925,439.5 L925.5,439.4 L926.1,439.4 L926.6,439.5 L927.2,439.8 L927.7,440.3 L928.2,440.9 L928.7,441.7 L929.1,442.6 L929.6,443.6 L930,444.8 L930.4,446.1 L930.7,447.5 L931.1,449 L931.4,450.6 L931.7,452.3 L931.9,454 L932.2,455.7 L932.4,457.5 L932.6,459.2 L932.8,461 L933,462.7 L933.2,464.3 L933.5,465.5 L934.1,465.5 L934.7,465.4 L935.3,465.3 L935.9,465.3 L936.6,465.2 L937.2,465.2 L937.8,465.2 L938.5,465.4 L939.1,465.6 L939.7,465.9 L940.3,466.3 L940.9,466.8 L941.4,467.4 L941.9,468.1 L942.4,469 L942.9,469.9 L943.3,471 L943.6,472.2 L944,473.5 L944.2,474.8 L944.5,476.3 L944.7,477.9 L944.8,479.5 L944.9,481.2 L945,482.9 L945,484.7 L945,486.5 L945,488.4 L944.9,490.2 L944.8,492.1 L944.6,494 L944.5,495.8 L944.4,497.6 L944.2,499.3 L944.1,501 L944,502.6 L944.3,503.7 L944.8,504.6 L945.4,505.5 L945.9,506.4 L946.5,507.3 L947,508.3 L947.5,509.4 L948.1,510.5 L948.6,511.6 L949,512.8 L949.5,514.1 L949.9,515.4 L950.2,516.8 L950.5,518.2 L950.8,519.6 L951,521.2 L951.2,522.7 L951.3,524.3 L951.4,525.8 L951.4,527.4 L951.3,529.1 L951.2,530.7 L951,532.3 L950.8,533.9 L950.6,535.4Z"/><ellipse class="r" cx="911" cy="537" rx="30.6" ry="90"/><ellipse class="r t" cx="910.4" cy="537" rx="28.9" ry="85"/><ellipse class="r" cx="907" cy="537" rx="19.4" ry="57"/><ellipse class="r t" cx="906.5" cy="537" rx="18" ry="53"/><ellipse class="r t" cx="905.2" cy="537" rx="14.3" ry="42"/><ellipse class="r" cx="907" cy="536" rx="7.5" ry="24"/><ellipse class="r" cx="907.5" cy="536" rx="5.5" ry="19"/><ellipse class="r t" cx="906.5" cy="536" rx="11" ry="33"/><path class="r" d="M918,501 C919.3,500.7 922.7,499 926,499 C929.3,499 935.5,498 938,501 C940.5,504 940.3,511 941,517 C941.7,523 942,530 942,537 C942,544 942,553.2 941,559 C940,564.8 938.8,569.3 936,572 C933.2,574.7 927,574.8 924,575 C921,575.2 919,573.3 918,573"/><path class="r t" d="M922,503 L922,571"/><path class="r t" d="M932,507 L934,567"/><path class="r" d="M886.9,496 C886.2,494 887.4,493.1 887.8,491.7 C888.1,490.3 888.4,489 888.7,487.7 C889.1,486.3 889.4,485 889.8,483.7 C890.2,482.5 890.6,481.2 890.9,480 C891.3,478.8 891.7,477.7 892.2,476.5 C892.6,475.4 893,474.3 893.5,473.3 C893.9,472.2 894.3,471.2 894.8,470.2 C895.3,469.3 895.7,468.3 896.2,467.5 C896.7,466.6 897.2,465.7 897.7,464.9 C898.2,464.1 898.7,463.4 899.2,462.7 C899.7,462 900.3,461.3 900.8,460.7 C901.3,460.1 901.8,459.5 902.4,459 C902.9,458.5 903.5,458 904,457.6 C904.6,457.2 905.1,456.8 905.7,456.5 C906.2,456.2 906.8,455.9 907.4,455.7 C907.9,455.5 908.5,455.3 909.1,455.2 C909.6,455.1 910.2,455 910.8,455 C911.3,455 911.9,455 912.5,455.1 C913,455.2 913.6,455.3 914.2,455.5 C914.7,455.7 915.3,456 915.8,456.2 C916.4,456.5 917,456.9 917.5,457.3 C918.1,457.7 918.6,458.1 919.2,458.6 C919.7,459.1 920.2,459.6 920.8,460.2 C921.3,460.8 921.8,461.4 922.3,462.1 C922.9,462.8 923.4,463.5 923.9,464.3 C924.4,465 924.9,465.9 925.4,466.7 C925.8,467.6 926.3,468.5 926.8,469.4 C927.3,470.4 927.7,471.4 928.2,472.4 C928.6,473.4 929,474.5 929.5,475.6 C929.9,476.7 931.1,476.6 930.7,479 C930.3,481.5 927.7,488.9 926.9,490.3 C926.1,491.8 926.2,488.5 925.9,487.6 C925.5,486.7 925.2,485.8 924.8,485 C924.5,484.2 924.1,483.4 923.7,482.6 C923.3,481.8 922.9,481.1 922.6,480.4 C922.2,479.7 921.8,479.1 921.4,478.5 C921,477.8 920.5,477.3 920.1,476.7 C919.7,476.2 919.3,475.6 918.9,475.2 C918.4,474.7 918,474.3 917.6,473.9 C917.1,473.5 916.7,473.1 916.2,472.8 C915.8,472.5 915.3,472.2 914.9,472 C914.4,471.8 914,471.6 913.5,471.4 C913.1,471.3 912.6,471.2 912.2,471.1 C911.7,471 911.3,471 910.8,471 C910.3,471 909.9,471.1 909.4,471.2 C909,471.3 908.5,471.4 908.1,471.6 C907.6,471.7 907.2,472 906.7,472.2 C906.3,472.5 905.8,472.8 905.4,473.1 C904.9,473.4 904.5,473.8 904.1,474.2 C903.6,474.6 903.2,475.1 902.8,475.6 C902.4,476.1 901.9,476.6 901.5,477.2 C901.1,477.8 900.7,478.4 900.3,479 C899.9,479.6 899.5,480.3 899.1,481 C898.7,481.7 898.3,482.5 898,483.3 C897.6,484 897.2,484.9 896.9,485.7 C896.5,486.6 896.2,487.4 895.8,488.3 C895.5,489.2 895.2,490.2 894.9,491.2 C894.5,492.1 894.2,493.1 893.9,494.1 C893.6,495.2 893.4,496.2 893.1,497.3 C892.8,498.4 892.5,499.5 892.3,500.6 C892,501.7 892.5,504.8 891.6,504 C890.7,503.2 887.5,498 886.9,496Z"/><path class="r t" d="M891.6,490.2 C891.8,489.7 892.2,488.2 892.5,487.2 C892.8,486.2 893.1,485.2 893.4,484.3 C893.7,483.3 894,482.4 894.3,481.5 C894.7,480.6 895,479.7 895.3,478.9 C895.7,478 896,477.2 896.4,476.4 C896.7,475.6 897.1,474.9 897.5,474.1 C897.8,473.4 898.2,472.7 898.6,472 C899,471.3 899.4,470.7 899.8,470.1 C900.2,469.4 900.6,468.9 901,468.3 C901.4,467.7 901.8,467.2 902.2,466.7 C902.6,466.2 903,465.7 903.4,465.3 C903.9,464.9 904.3,464.5 904.7,464.1 C905.1,463.7 905.6,463.4 906,463.1 C906.4,462.8 906.9,462.5 907.3,462.3 C907.7,462 908.2,461.8 908.6,461.7 C909.1,461.5 909.5,461.3 910,461.2 C910.4,461.1 910.8,461.1 911.3,461 C911.7,461 912.2,461 912.6,461 C913.1,461.1 913.5,461.1 914,461.2 C914.4,461.3 914.9,461.5 915.3,461.6 C915.7,461.8 916.2,462 916.6,462.2 C917.1,462.5 917.5,462.7 917.9,463 C918.4,463.3 918.8,463.7 919.2,464 C919.7,464.4 920.1,464.8 920.5,465.2 C920.9,465.7 921.3,466.1 921.7,466.6 C922.2,467.1 922.6,467.6 923,468.2 C923.4,468.8 923.8,469.3 924.2,470 C924.6,470.6 925,471.2 925.3,471.9 C925.7,472.6 926.1,473.3 926.5,474 C926.8,474.8 927.4,475.9 927.6,476.3"/><path class="r t" d="M894.1,489.5 C894.2,489.1 894.6,487.9 894.8,487.1 C895.1,486.3 895.4,485.5 895.7,484.7 C895.9,484 896.2,483.2 896.5,482.5 C896.8,481.8 897.1,481.1 897.4,480.4 C897.7,479.8 898,479.1 898.3,478.5 C898.6,477.9 899,477.2 899.3,476.7 C899.6,476.1 899.9,475.5 900.3,475 C900.6,474.4 900.9,473.9 901.3,473.4 C901.6,472.9 901.9,472.4 902.3,472 C902.6,471.5 903,471.1 903.3,470.7 C903.7,470.3 904.1,469.9 904.4,469.6 C904.8,469.2 905.1,468.9 905.5,468.6 C905.9,468.3 906.2,468 906.6,467.8 C907,467.5 907.4,467.3 907.7,467.1 C908.1,466.9 908.5,466.8 908.8,466.6 C909.2,466.5 909.6,466.3 910,466.2 C910.4,466.2 910.7,466.1 911.1,466 C911.5,466 911.9,466 912.3,466 C912.6,466 913,466.1 913.4,466.1 C913.8,466.2 914.1,466.3 914.5,466.4 C914.9,466.5 915.3,466.6 915.7,466.8 C916,467 916.4,467.2 916.8,467.4 C917.1,467.6 917.5,467.9 917.9,468.1 C918.2,468.4 918.6,468.7 919,469 C919.3,469.4 919.7,469.7 920.1,470.1 C920.4,470.4 920.8,470.8 921.1,471.3 C921.5,471.7 921.8,472.1 922.2,472.6 C922.5,473.1 922.8,473.6 923.2,474.1 C923.5,474.6 923.9,475.1 924.2,475.7 C924.5,476.3 925,477.2 925.1,477.5"/><path class="r" d="M930.7,595 C931.1,597.4 929.9,597.3 929.5,598.4 C929,599.5 928.6,600.6 928.2,601.6 C927.7,602.6 927.3,603.6 926.8,604.6 C926.3,605.5 925.8,606.4 925.4,607.3 C924.9,608.1 924.4,609 923.9,609.7 C923.4,610.5 922.9,611.2 922.3,611.9 C921.8,612.6 921.3,613.2 920.8,613.8 C920.2,614.4 919.7,614.9 919.2,615.4 C918.6,615.9 918.1,616.3 917.5,616.7 C917,617.1 916.4,617.5 915.8,617.8 C915.3,618 914.7,618.3 914.2,618.5 C913.6,618.7 913,618.8 912.5,618.9 C911.9,619 911.3,619 910.8,619 C910.2,619 909.6,618.9 909.1,618.8 C908.5,618.7 907.9,618.5 907.4,618.3 C906.8,618.1 906.2,617.8 905.7,617.5 C905.1,617.2 904.6,616.8 904,616.4 C903.5,616 902.9,615.5 902.4,615 C901.8,614.5 901.3,613.9 900.8,613.3 C900.3,612.7 899.7,612 899.2,611.3 C898.7,610.6 898.2,609.9 897.7,609.1 C897.2,608.3 896.7,607.4 896.2,606.5 C895.7,605.7 895.3,604.7 894.8,603.8 C894.3,602.8 893.9,601.8 893.5,600.7 C893,599.7 892.6,598.6 892.2,597.5 C891.7,596.3 891.3,595.2 890.9,594 C890.6,592.8 890.2,591.5 889.8,590.3 C889.4,589 889.1,587.7 888.7,586.3 C888.4,585 888.1,583.7 887.8,582.3 C887.4,580.9 886.2,580 886.9,578 C887.5,576 890.7,570.8 891.6,570 C892.5,569.2 892,572.3 892.3,573.4 C892.5,574.5 892.8,575.6 893.1,576.7 C893.4,577.8 893.6,578.8 893.9,579.9 C894.2,580.9 894.5,581.9 894.9,582.8 C895.2,583.8 895.5,584.8 895.8,585.7 C896.2,586.6 896.5,587.4 896.9,588.3 C897.2,589.1 897.6,590 898,590.7 C898.3,591.5 898.7,592.3 899.1,593 C899.5,593.7 899.9,594.4 900.3,595 C900.7,595.6 901.1,596.2 901.5,596.8 C901.9,597.4 902.4,597.9 902.8,598.4 C903.2,598.9 903.6,599.4 904.1,599.8 C904.5,600.2 904.9,600.6 905.4,600.9 C905.8,601.2 906.3,601.5 906.7,601.8 C907.2,602 907.6,602.3 908.1,602.4 C908.5,602.6 909,602.7 909.4,602.8 C909.9,602.9 910.3,603 910.8,603 C911.3,603 911.7,603 912.2,602.9 C912.6,602.8 913.1,602.7 913.5,602.6 C914,602.4 914.4,602.2 914.9,602 C915.3,601.8 915.8,601.5 916.2,601.2 C916.7,600.9 917.1,600.5 917.6,600.1 C918,599.7 918.4,599.3 918.9,598.8 C919.3,598.4 919.7,597.8 920.1,597.3 C920.5,596.7 921,596.2 921.4,595.5 C921.8,594.9 922.2,594.3 922.6,593.6 C922.9,592.9 923.3,592.2 923.7,591.4 C924.1,590.6 924.5,589.8 924.8,589 C925.2,588.2 925.5,587.3 925.9,586.4 C926.2,585.5 926.1,582.2 926.9,583.7 C927.7,585.1 930.3,592.5 930.7,595Z"/><path class="r t" d="M927.6,597.7 C927.4,598.1 926.8,599.2 926.5,600 C926.1,600.7 925.7,601.4 925.3,602.1 C925,602.8 924.6,603.4 924.2,604 C923.8,604.7 923.4,605.2 923,605.8 C922.6,606.4 922.2,606.9 921.7,607.4 C921.3,607.9 920.9,608.3 920.5,608.8 C920.1,609.2 919.7,609.6 919.2,610 C918.8,610.3 918.4,610.7 917.9,611 C917.5,611.3 917.1,611.5 916.6,611.8 C916.2,612 915.7,612.2 915.3,612.4 C914.9,612.5 914.4,612.7 914,612.8 C913.5,612.9 913.1,612.9 912.6,613 C912.2,613 911.7,613 911.3,613 C910.8,612.9 910.4,612.9 910,612.8 C909.5,612.7 909.1,612.5 908.6,612.3 C908.2,612.2 907.7,612 907.3,611.7 C906.9,611.5 906.4,611.2 906,610.9 C905.6,610.6 905.1,610.3 904.7,609.9 C904.3,609.5 903.9,609.1 903.4,608.7 C903,608.3 902.6,607.8 902.2,607.3 C901.8,606.8 901.4,606.3 901,605.7 C900.6,605.1 900.2,604.6 899.8,603.9 C899.4,603.3 899,602.7 898.6,602 C898.2,601.3 897.8,600.6 897.5,599.9 C897.1,599.1 896.7,598.4 896.4,597.6 C896,596.8 895.7,596 895.3,595.1 C895,594.3 894.7,593.4 894.3,592.5 C894,591.6 893.7,590.7 893.4,589.7 C893.1,588.8 892.8,587.8 892.5,586.8 C892.2,585.8 891.8,584.3 891.6,583.8"/><path class="r t" d="M925.1,596.5 C925,596.8 924.5,597.7 924.2,598.3 C923.9,598.9 923.5,599.4 923.2,599.9 C922.8,600.4 922.5,600.9 922.2,601.4 C921.8,601.9 921.5,602.3 921.1,602.7 C920.8,603.2 920.4,603.6 920.1,603.9 C919.7,604.3 919.3,604.6 919,605 C918.6,605.3 918.2,605.6 917.9,605.9 C917.5,606.1 917.1,606.4 916.8,606.6 C916.4,606.8 916,607 915.7,607.2 C915.3,607.4 914.9,607.5 914.5,607.6 C914.1,607.7 913.8,607.8 913.4,607.9 C913,607.9 912.6,608 912.3,608 C911.9,608 911.5,608 911.1,608 C910.7,607.9 910.4,607.8 910,607.8 C909.6,607.7 909.2,607.5 908.8,607.4 C908.5,607.2 908.1,607.1 907.7,606.9 C907.4,606.7 907,606.5 906.6,606.2 C906.2,606 905.9,605.7 905.5,605.4 C905.1,605.1 904.8,604.8 904.4,604.4 C904.1,604.1 903.7,603.7 903.3,603.3 C903,602.9 902.6,602.5 902.3,602 C901.9,601.6 901.6,601.1 901.3,600.6 C900.9,600.1 900.6,599.6 900.3,599 C899.9,598.5 899.6,597.9 899.3,597.3 C899,596.8 898.6,596.1 898.3,595.5 C898,594.9 897.7,594.2 897.4,593.6 C897.1,592.9 896.8,592.2 896.5,591.5 C896.2,590.8 895.9,590 895.7,589.3 C895.4,588.5 895.1,587.7 894.8,586.9 C894.6,586.1 894.2,584.9 894.1,584.5"/>
<path class="r" d="M885.5,717 L886,717.5 L886.6,718.1 L887.1,718.8 L887.7,719.6 L888.2,720.5 L888.8,721.5 L889.3,722.5 L889.8,723.6 L890.3,724.7 L890.8,725.9 L891.3,727 L891.8,728.1 L892.2,729.1 L892.7,730 L893.1,729.4 L893.6,728.5 L894.1,727.5 L894.6,726.4 L895.1,725.3 L895.6,724.3 L896.2,723.3 L896.7,722.3 L897.3,721.4 L897.8,720.5 L898.4,719.8 L898.9,719.1 L899.5,718.5 L900.1,718.1 L900.6,717.8 L901.2,717.6 L901.7,717.5 L902.3,717.5 L902.8,717.7 L903.4,718.1 L903.9,718.5 L904.4,719.1 L904.8,719.9 L905.3,720.7 L905.8,721.7 L906.2,722.8 L906.6,724 L907,725.4 L907.3,726.8 L907.6,728.2 L908,729.8 L908.2,731.4 L908.5,733.1 L908.8,734.8 L909,736.5 L909.2,738.3 L909.4,740 L909.6,741.7 L909.8,743.4 L910,745 L910.3,746.4 L910.8,746.6 L911.3,746.5 L911.9,746.4 L912.6,746.3 L913.2,746.3 L913.8,746.2 L914.4,746.2 L915.1,746.2 L915.7,746.4 L916.3,746.5 L916.9,746.8 L917.5,747.1 L918.1,747.6 L918.7,748.1 L919.2,748.7 L919.7,749.5 L920.2,750.3 L920.6,751.2 L921,752.3 L921.4,753.4 L921.8,754.6 L922.1,755.9 L922.3,757.3 L922.6,758.7 L922.8,760.3 L922.9,761.9 L923,763.5 L923.1,765.3 L923.1,767 L923.1,768.8 L923.1,770.6 L923,772.4 L923,774.3 L922.9,776.1 L922.7,777.9 L922.6,779.8 L922.5,781.5 L922.3,783.3 L922.2,785 L922,786.7 L922,788.2 L922.4,789.1 L922.9,790 L923.4,790.9 L924,791.8 L924.5,792.7 L925.1,793.7 L925.6,794.7 L926.1,795.7 L926.6,796.8 L927.1,797.9 L927.6,799.1 L928,800.4 L928.4,801.7 L928.8,803 L929.1,804.4 L929.4,805.8 L929.7,807.3 L929.9,808.8 L930,810.3 L930.1,811.8 L930.2,813.4 L930.2,815 L930.1,816.6 L930.1,818.2 L929.9,819.8 L929.8,821.3 L929.5,822.9 L929.3,824.5 L929,826 L928.7,827.5 L928.3,829 L927.9,830.4 L927.5,831.8 L927.1,833.2 L926.6,834.6 L926.2,835.9 L925.7,837.1 L925.3,838.4 L924.9,839.6 L924.5,840.8 L924.2,842 L924.4,843.5 L924.7,845 L924.9,846.6 L925.2,848.2 L925.5,849.8 L925.8,851.5 L926.1,853.2 L926.3,854.9 L926.5,856.7 L926.7,858.4 L926.9,860.1 L927,861.9 L927.1,863.6 L927.2,865.3 L927.2,867 L927.2,868.6 L927.1,870.3 L927,871.8 L926.8,873.4 L926.6,874.8 L926.4,876.2 L926.1,877.6 L925.8,878.8 L925.4,880 L925,881.2 L924.6,882.2 L924.1,883.2 L923.6,884.1 L923.1,884.9 L922.5,885.6 L921.9,886.3 L921.4,886.9 L920.7,887.4 L920.1,887.9 L919.5,888.3 L918.9,888.7 L918.3,889.1 L917.7,889.4 L917.1,889.7 L916.6,890.1 L916.1,890.8 L916,892.4 L916,894.1 L915.9,895.9 L915.9,897.7 L915.8,899.5 L915.7,901.4 L915.6,903.2 L915.5,905 L915.4,906.8 L915.2,908.6 L915.1,910.3 L914.8,912 L914.6,913.6 L914.3,915.1 L914,916.6 L913.7,917.9 L913.4,919.2 L913,920.3 L912.6,921.3 L912.1,922.2 L911.7,923 L911.2,923.7 L910.7,924.2 L910.1,924.7 L909.6,924.9 L909,925.1 L908.4,925.2 L907.9,925.1 L907.3,924.9 L906.7,924.7 L906.1,924.3 L905.4,923.9 L904.8,923.3 L904.2,922.8 L903.6,922.1 L903.1,921.5 L902.5,920.8 L901.9,920.1 L901.4,919.5 L900.8,918.9 L900.4,919 L900,920.2 L899.6,921.5 L899.2,922.9 L898.9,924.4 L898.5,925.8 L898.1,927.2 L897.7,928.7 L897.2,930 L896.8,931.3 L896.3,932.6 L895.8,933.7 L895.4,934.8 L894.9,935.7 L894.4,936.6 L893.9,937.3 L893.3,937.9 L892.8,938.4 L892.3,938.7 L891.7,938.9 L891.2,939 L890.7,938.9 L890.1,938.7 L889.6,938.3 L889.1,937.8 L888.6,937.1 L888.1,936.4 L887.6,935.5 L887.1,934.5 L886.6,933.4 L886.2,932.2 L885.7,930.9"/><path class="r" d="M918,826 L917.6,827.7 L917.2,829.3 L916.8,831 L916.3,832.5 L915.8,834.1 L915.3,835.5 L914.8,837 L914.3,838.4 L913.8,839.7 L913.4,841.1 L913.3,842.6 L913.5,844.3 L913.8,846 L914.2,847.8 L914.5,849.6 L914.8,851.5 L915.1,853.4 L915.4,855.4 L915.6,857.3 L915.8,859.3 L916,861.2 L916.1,863.2 L916.2,865.1 L916.2,867 L916.2,868.8 L916.1,870.7 L915.9,872.4 L915.8,874.1 L915.5,875.7 L915.2,877.2 L914.8,878.7 L914.4,880 L914,881.3 L913.5,882.5 L912.9,883.5 L912.3,884.5 L911.7,885.4 L911.1,886.1 L910.4,886.8 L909.7,887.4 L909.1,888 L908.4,888.4 L907.7,888.8 L907,889.2 L906.3,889.6 L905.7,890 L905.2,890.6 L905,892.4 L905,894.3 L904.9,896.3 L904.8,898.4 L904.8,900.4 L904.7,902.5 L904.6,904.6 L904.4,906.6 L904.2,908.6 L904,910.6 L903.8,912.4 L903.5,914.2 L903.2,915.9 L902.8,917.4 L902.5,918.9 L902,920.2 L901.6,921.3 L901.1,922.3 L900.5,923.2 L900,923.9 L899.4,924.5 L898.8,924.9 L898.2,925.1 L897.5,925.2 L896.9,925.1 L896.2,924.9 L895.5,924.6 L894.8,924.1 L894.1,923.6 L893.5,923 L892.8,922.3 L892.1,921.6 L891.5,920.8 L890.8,920 L890.2,919.3 L889.6,918.8 L889.2,919.6 L888.8,921 L888.3,922.6 L887.9,924.2 L887.5,925.8 L887,927.4 L886.5,929 L886.1,930.5 L885.6,931.9 L885,933.3 L884.5,934.5 L883.9,935.6 L883.4,936.6 L882.8,937.4 L882.2,938 L881.6,938.5 L881,938.8 L880.4,939 L879.8,938.9 L879.2,938.7 L878.6,938.3 L878,937.7 L877.4,937 L876.9,936.1 L876.3,935 L875.8,933.8 L875.3,932.5 L874.8,931.1 L874.3,929.6 L873.8,928 L873.4,926.4 L872.9,924.7 L872.5,923 L872.1,921.3 L871.7,919.7 L871.4,918.3 L870.9,917.6 L870.3,918.1 L869.7,918.7 L869,919.4 L868.3,920 L867.7,920.7 L867,921.3 L866.3,921.8 L865.6,922.2 L864.9,922.6 L864.2,922.8 L863.6,922.9 L862.9,922.8 L862.3,922.7 L861.6,922.3 L861,921.8 L860.5,921.2 L859.9,920.4 L859.4,919.5 L858.9,918.4 L858.5,917.1 L858.1,915.8 L857.7,914.3 L857.4,912.6 L857.1,910.9 L856.9,909.1 L856.7,907.2 L856.5,905.2 L856.4,903.2 L856.2,901.1 L856.2,899.1 L856.1,897 L856.1,894.9 L856,892.8 L856,890.8 L855.9,888.9 L855.9,887.2 L855.3,886.6 L854.7,886.1 L854,885.6 L853.3,885.2 L852.6,884.6 L851.9,884.1 L851.3,883.4 L850.6,882.7 L849.9,882 L849.3,881.1 L848.7,880.1 L848.2,879.1 L847.6,877.9 L847.2,876.7 L846.7,875.4 L846.3,874 L846,872.5 L845.7,870.9 L845.5,869.2 L845.4,867.5 L845.3,865.7 L845.2,863.9 L845.2,862 L845.3,860.1 L845.4,858.2 L845.5,856.3 L845.7,854.4 L846,852.4 L846.3,850.5 L846.6,848.6 L846.9,846.8 L847.2,844.9 L847.6,843.2 L847.9,841.4 L848.2,839.7 L848.5,838.1 L848.4,836.6 L848,835.2 L847.5,833.8 L847,832.3 L846.5,830.8 L846.1,829.2 L845.6,827.6 L845.1,826 L844.7,824.3 L844.4,822.6 L844,820.9 L843.7,819.1 L843.5,817.3 L843.3,815.5 L843.1,813.7 L843,811.9 L843,810.1 L843.1,808.3 L843.2,806.6 L843.3,804.9 L843.5,803.2 L843.8,801.5 L844.1,800 L844.5,798.4 L844.9,797 L845.4,795.6 L845.9,794.3 L846.5,793 L847,791.8 L847.6,790.7 L848.3,789.6 L848.9,788.6 L849.5,787.6 L850.1,786.7 L850.7,785.8 L851.3,784.9 L851.6,783.7 L851.6,781.9 L851.4,780 L851.3,778 L851.2,776 L851,773.9 L850.9,771.8 L850.9,769.7 L850.8,767.7 L850.8,765.6 L850.8,763.6 L850.9,761.6 L851,759.7 L851.1,757.8 L851.3,756.1 L851.6,754.4 L851.9,752.8 L852.2,751.3 L852.6,750 L853,748.7 L853.5,747.6 L854,746.6 L854.6,745.8 L855.1,745 L855.8,744.4 L856.4,744 L857.1,743.6 L857.8,743.4 L858.5,743.3 L859.2,743.2 L859.9,743.3 L860.6,743.4 L861.3,743.6 L862,743.8 L862.7,744 L863.3,744.1 L863.9,744.1 L864.2,742.7 L864.5,740.9 L864.8,739.1 L865,737.2 L865.3,735.2 L865.6,733.3 L865.9,731.4 L866.2,729.6 L866.6,727.8 L866.9,726.1 L867.3,724.5 L867.8,723 L868.2,721.6 L868.7,720.4 L869.2,719.3 L869.7,718.4 L870.3,717.6 L870.9,717 L871.4,716.6 L872,716.3 L872.7,716.3 L873.3,716.4 L873.9,716.6 L874.5,717.1 L875.2,717.6 L875.8,718.4 L876.4,719.2 L877,720.2 L877.6,721.3 L878.2,722.4 L878.8,723.6 L879.4,724.9 L879.9,726.1 L880.5,727.4 L881,728.6 L881.5,729.7 L882,729.6 L882.6,728.6 L883.1,727.5 L883.7,726.3 L884.2,725.1 L884.8,723.9 L885.4,722.8 L886,721.7 L886.7,720.7 L887.3,719.9 L887.9,719.1 L888.6,718.5 L889.2,718 L889.8,717.7 L890.5,717.5 L891.1,717.5 L891.7,717.7 L892.3,718 L892.9,718.5 L893.4,719.2 L894,720.1 L894.5,721.1 L895,722.3 L895.4,723.6 L895.9,725 L896.3,726.6 L896.6,728.2 L897,730 L897.3,731.8 L897.6,733.7 L897.9,735.7 L898.1,737.6 L898.4,739.6 L898.6,741.5 L898.8,743.4 L899.1,745.2 L899.4,746.5 L900,746.6 L900.6,746.5 L901.3,746.4 L902,746.3 L902.7,746.2 L903.4,746.2 L904.2,746.3 L904.9,746.4 L905.6,746.6 L906.2,747 L906.9,747.4 L907.5,748 L908.1,748.7 L908.7,749.5 L909.2,750.4 L909.7,751.5 L910.2,752.7 L910.6,754 L911,755.4 L911.3,756.9 L911.5,758.6 L911.8,760.3 L911.9,762.1 L912,764 L912.1,765.9 L912.1,767.9 L912.1,769.9 L912.1,772 L912,774 L911.9,776.1 L911.7,778.2 L911.6,780.2 L911.4,782.2 L911.2,784.2 L911.1,786 L911,787.8 L911.4,789 L911.9,790 L912.5,791 L913.1,792 L913.7,793 L914.3,794.1 L914.9,795.3 L915.5,796.5 L916.1,797.8 L916.6,799.1 L917.1,800.5 L917.5,802 L917.9,803.5 L918.3,805.1 L918.6,806.7 L918.8,808.4 L919,810.1 L919.1,811.8 L919.2,813.6 L919.2,815.4 L919.1,817.2 L919,819 L918.8,820.8 L918.6,822.5 L918.3,824.3Z"/><path class="r t" d="M867.7,745.7 L868,744.2 L868.2,742.6 L868.4,741 L868.6,739.4 L868.9,737.8 L869.1,736.2 L869.4,734.6 L869.7,733.1 L870,731.6 L870.3,730.2 L870.7,728.9 L871.1,727.7 L871.5,726.6 L871.9,725.5 L872.3,724.6 L872.7,723.8 L873.2,723.2 L873.7,722.6 L874.2,722.2 L874.7,721.9 L875.2,721.8 L875.7,721.8 L876.2,721.9 L876.8,722.1 L877.3,722.5 L877.8,722.9 L878.4,723.5 L878.9,724.2 L879.4,725 L879.9,725.8 L880.4,726.7 L880.9,727.7 L881.4,728.7 L881.9,729.8 L882.4,730.9 L882.8,731.9 L883.3,733 L883.7,733.9 L884.1,734.8 L884.6,734.2 L885,733.3 L885.5,732.4 L886,731.4 L886.5,730.4 L887,729.4 L887.5,728.4 L888,727.5 L888.5,726.6 L889,725.8 L889.5,725.1 L890.1,724.5 L890.6,723.9 L891.2,723.5 L891.7,723.2 L892.2,723 L892.8,722.9 L893.3,723 L893.8,723.2 L894.3,723.5 L894.8,723.9 L895.2,724.5 L895.7,725.2 L896.1,726 L896.6,726.9 L897,728 L897.3,729.1 L897.7,730.4 L898,731.7 L898.4,733.1 L898.7,734.6 L898.9,736.2 L899.2,737.7 L899.4,739.4 L899.6,741 L899.9,742.7 L900.1,744.3 L900.2,745.9 L900.4,747.5 L900.6,749 L900.8,750.4 L901.3,750.5 L901.9,750.5 L902.4,750.4 L903,750.3 L903.6,750.3 L904.2,750.2 L904.8,750.2 L905.4,750.2 L906,750.3 L906.6,750.5 L907.2,750.8 L907.8,751.1 L908.3,751.5 L908.8,752 L909.3,752.6 L909.8,753.3 L910.3,754.1 L910.7,755 L911.1,755.9 L911.5,757 L911.8,758.2 L912.1,759.4 L912.3,760.7 L912.5,762.1 L912.7,763.6 L912.9,765.1 L913,766.7 L913,768.3 L913.1,770 L913.1,771.7 L913,773.4 L913,775.1 L912.9,776.9 L912.8,778.6 L912.7,780.3 L912.6,782.1 L912.4,783.8 L912.3,785.4 L912.2,787.1 L912,788.6 L912,790.1 L912.4,790.9 L912.9,791.8 L913.4,792.6 L913.9,793.5 L914.4,794.4 L914.9,795.3 L915.4,796.2 L915.9,797.2 L916.4,798.3 L916.9,799.3 L917.3,800.5 L917.7,801.7 L918.1,802.9 L918.4,804.2 L918.8,805.5 L919,806.8 L919.3,808.2 L919.5,809.6 L919.6,811.1 L919.7,812.5 L919.8,814 L919.8,815.5 L919.7,817 L919.7,818.6 L919.5,820.1 L919.4,821.6 L919.2,823.1 L918.9,824.5 L918.6,826 L918.3,827.4 L918,828.8 L917.6,830.2 L917.2,831.5 L916.8,832.9 L916.4,834.1 L916,835.4 L915.6,836.6 L915.1,837.8 L914.7,838.9 L914.4,840 L914.1,841.2 L914.3,842.6 L914.5,844.1 L914.8,845.6 L915.1,847.1 L915.3,848.7 L915.6,850.2 L915.8,851.8 L916.1,853.5 L916.3,855.1 L916.5,856.8 L916.6,858.4 L916.8,860.1 L916.9,861.7 L916.9,863.3 L916.9,864.9 L916.9,866.5 L916.9,868 L916.7,869.5 L916.6,871 L916.4,872.4 L916.2,873.7 L915.9,875 L915.6,876.2 L915.3,877.3 L914.9,878.4 L914.5,879.4 L914,880.3 L913.5,881.2 L913,882 L912.5,882.7 L911.9,883.3 L911.4,883.9 L910.8,884.4 L910.2,884.8 L909.6,885.2 L909.1,885.6 L908.5,885.9 L907.9,886.2 L907.4,886.6 L906.8,886.9 L906.4,887.6 L906.3,889.1 L906.3,890.7 L906.2,892.4 L906.2,894.1 L906.1,895.8 L906,897.6 L906,899.3 L905.8,901.1 L905.7,902.8 L905.6,904.5 L905.4,906.1 L905.2,907.7 L905,909.2 L904.7,910.7 L904.4,912 L904.1,913.3 L903.8,914.5 L903.4,915.6 L903,916.6 L902.6,917.4 L902.2,918.2 L901.7,918.8 L901.2,919.3 L900.7,919.7 L900.2,920 L899.7,920.2 L899.1,920.2 L898.6,920.2 L898,920 L897.4,919.7 L896.8,919.4 L896.3,919 L895.7,918.5 L895.1,917.9 L894.6,917.3 L894,916.7 L893.4,916.1 L892.9,915.4 L892.4,914.8 L891.9,914.3 L891.4,914.4 L891.1,915.5 L890.7,916.8 L890.4,918.1 L890,919.5 L889.7,920.8 L889.3,922.2 L888.9,923.5 L888.5,924.8 L888,926.1 L887.6,927.2 L887.2,928.3 L886.7,929.3 L886.2,930.2 L885.7,931.1 L885.3,931.7 L884.8,932.3 L884.3,932.8 L883.8,933.1 L883.2,933.3 L882.7,933.3 L882.2,933.2 L881.7,933 L881.2,932.7 L880.7,932.2 L880.2,931.6 L879.8,930.9 L879.3,930 L878.8,929.1 L878.4,928 L877.9,926.9 L877.5,925.7 L877.1,924.4 L876.7,923.1 L876.3,921.7 L876,920.3 L875.6,918.9 L875.3,917.4 L875,916.1 L874.6,914.7 L874.3,913.5 L873.9,913 L873.4,913.4 L872.9,913.9 L872.3,914.5 L871.8,915 L871.2,915.6 L870.6,916.1 L870,916.6 L869.5,917.1 L868.9,917.4 L868.3,917.7 L867.7,917.9 L867.1,918 L866.6,918 L866,917.9 L865.5,917.7"/><path class="r t" d="M884,724.9 L884.5,725.8 L884.9,726.8 L885.4,727.9 L885.9,728.9 L886.3,730 L886.8,731 L887.2,731.9 L887.6,732.7 L888,732.5 L888.5,731.6 L888.9,730.7 L889.4,729.8 L889.8,728.8 L890.3,727.8 L890.8,726.8 L891.3,725.9 L891.8,725 L892.3,724.2 L892.8,723.5 L893.3,722.8 L893.8,722.2 L894.4,721.7 L894.9,721.3 L895.4,721 L895.9,720.8 L896.4,720.7 L896.9,720.8 L897.4,721 L897.9,721.2 L898.4,721.6 L898.9,722.2 L899.3,722.8 L899.7,723.5 L900.1,724.4 L900.5,725.4 L900.9,726.4 L901.3,727.6 L901.6,728.8 L901.9,730.2 L902.2,731.6 L902.5,733 L902.8,734.5 L903,736.1 L903.3,737.6 L903.5,739.2 L903.7,740.8 L903.9,742.4 L904.1,744 L904.3,745.6 L904.4,747 L904.6,748.4 L905,748.9 L905.5,748.9 L906.1,748.9 L906.6,748.8 L907.2,748.7 L907.8,748.6 L908.4,748.6 L909,748.6 L909.5,748.7 L910.1,748.8 L910.7,748.9 L911.2,749.2 L911.8,749.5 L912.3,749.9 L912.8,750.4 L913.3,751 L913.8,751.6 L914.3,752.4 L914.7,753.2 L915.1,754.2 L915.4,755.2 L915.7,756.3 L916,757.4 L916.3,758.7 L916.5,760 L916.7,761.4 L916.9,762.8 L917,764.3 L917.1,765.8 L917.2,767.4 L917.2,769 L917.2,770.7 L917.2,772.4 L917.1,774 L917,775.7 L916.9,777.4 L916.8,779.1 L916.7,780.8 L916.6,782.4 L916.4,784.1 L916.3,785.7 L916.2,787.2 L916.1,788.7 L916.3,789.8 L916.7,790.6 L917.2,791.4 L917.7,792.2 L918.2,793.1 L918.7,793.9 L919.2,794.8 L919.7,795.7 L920.1,796.7 L920.6,797.7 L921.1,798.8 L921.5,799.9 L921.9,801 L922.3,802.2 L922.6,803.4 L922.9,804.7 L923.2,806 L923.4,807.3 L923.6,808.7 L923.8,810.1 L923.9,811.5 L924,812.9 L924,814.4 L924,815.9 L924,817.3 L923.9,818.8 L923.8,820.3 L923.6,821.7 L923.4,823.2 L923.2,824.6 L922.9,826 L922.6,827.4 L922.3,828.8 L921.9,830.1 L921.5,831.4 L921.1,832.7 L920.7,833.9 L920.3,835.1 L919.9,836.3 L919.5,837.5 L919.1,838.6 L918.7,839.7 L918.4,840.8 L918.3,842 L918.5,843.4 L918.7,844.8 L919,846.3 L919.3,847.8 L919.5,849.3 L919.8,850.8 L920,852.4 L920.3,854 L920.5,855.6 L920.6,857.2 L920.8,858.8 L920.9,860.4 L921,862 L921.1,863.5 L921.1,865.1 L921.1,866.6 L921.1,868.2 L921,869.6 L920.9,871.1 L920.7,872.4 L920.5,873.8 L920.3,875.1 L920,876.3 L919.7,877.4 L919.4,878.5 L919,879.6 L918.6,880.5 L918.2,881.4 L917.7,882.3 L917.2,883 L916.7,883.7 L916.2,884.3 L915.6,884.9 L915.1,885.4 L914.5,885.9 L914,886.3 L913.4,886.6 L912.8,887 L912.3,887.3 L911.7,887.6 L911.2,887.9 L910.7,888.3 L910.4,889.2 L910.3,890.7 L910.3,892.2 L910.2,893.9 L910.1,895.5 L910.1,897.2 L910,898.9 L909.9,900.6 L909.8,902.3 L909.7,904 L909.6,905.6 L909.4,907.2 L909.2,908.8 L909,910.3 L908.8,911.7 L908.5,913.1 L908.3,914.4 L908,915.6 L907.6,916.7 L907.3,917.7 L906.9,918.7 L906.5,919.5 L906,920.2 L905.6,920.8 L905.1,921.3 L904.6,921.7 L904.1,922 L903.6,922.1 L903.1,922.2 L902.5,922.2 L902,922 L901.4,921.8 L900.9,921.5 L900.3,921.1 L899.7,920.7 L899.2,920.2 L898.6,919.6 L898.1,919 L897.5,918.4 L897,917.8 L896.5,917.2 L896,916.6 L895.5,916.1 L895.1,916.3 L894.7,917.4 L894.4,918.6 L894.1,919.9 L893.7,921.2 L893.4,922.5 L893,923.9 L892.6,925.2 L892.2,926.4 L891.8,927.7 L891.4,928.8 L891,929.9 L890.5,931 L890.1,931.9 L889.6,932.7 L889.1,933.5 L888.7,934.1 L888.2,934.7 L887.7,935.1 L887.2,935.4 L886.7,935.5 L886.2,935.6 L885.7,935.5 L885.2,935.3 L884.7,935 L884.3,934.5 L883.8,934"/><path class="r t" d="M919.1,812.5 L930.1,812.5"/><path class="r t" d="M915.6,875.3 L926.6,875.3"/><path class="r t" d="M901,922.4 L912,922.4"/><path class="r t" d="M892.7,718.3 L903.7,718.3"/><path class="r t" d="M910.6,754 L921.6,754"/><path class="r t" d="M917,795.9 L917.5,800.3 L917.8,804.8 L918.1,809.3 L918.3,813.8 L918.5,818.4 L918.6,822.9 L918.6,827.5 L918.5,832.1"/><path class="r t" d="M918.5,794.6 L918.9,799.2 L919.3,803.9 L919.6,808.6 L919.9,813.3 L920,818 L920.1,822.8 L920.1,827.6 L920,832.4"/><path class="r t" d="M917.3,853.2 L916.9,857.6 L916.3,861.9 L915.8,866.2 L915.1,870.3 L914.4,874.4 L913.6,878.4 L912.8,882.3 L911.9,886"/><path class="r t" d="M918.8,854.5 L918.3,859 L917.8,863.5 L917.2,868 L916.5,872.3 L915.8,876.6 L915,880.7 L914.1,884.8 L913.2,888.7"/><path class="r t" d="M907,901.9 L905.8,904.9 L904.6,907.7 L903.3,910.3 L902,912.8 L900.7,915.1 L899.3,917.2 L897.9,919.1 L896.5,920.9"/><path class="r t" d="M908,905.3 L906.8,908.4 L905.5,911.3 L904.2,914.1 L902.8,916.6 L901.4,919 L900,921.3 L898.5,923.3 L897,925.1"/><path class="r t" d="M889.4,926.4 L887.9,927.1 L886.3,927.5 L884.8,927.7 L883.2,927.7 L881.7,927.5 L880.1,927.1 L878.6,926.4 L877,925.6"/><path class="r t" d="M889.7,930.9 L888,931.6 L886.4,932 L884.8,932.2 L883.2,932.2 L881.6,932 L879.9,931.5 L878.3,930.9 L876.7,930"/><path class="r t" d="M870.1,919.1 L868.7,917.2 L867.3,915.1 L866,912.8 L864.6,910.3 L863.4,907.6 L862.2,904.8 L861,901.9 L859.8,898.7"/><path class="r t" d="M869.5,923.2 L868,921.2 L866.6,919 L865.2,916.6 L863.8,914 L862.5,911.3 L861.2,908.3 L859.9,905.2 L858.8,902"/><path class="r t" d="M855.2,882.2 L854.4,878.3 L853.6,874.4 L852.9,870.3 L852.2,866.1 L851.6,861.9 L851.1,857.6 L850.7,853.2 L850.3,848.7"/><path class="r t" d="M853.9,884.7 L853,880.7 L852.2,876.5 L851.5,872.3 L850.8,867.9 L850.2,863.5 L849.7,859 L849.2,854.4 L848.8,849.8"/><path class="r t" d="M849.4,827.5 L849.4,822.9 L849.5,818.3 L849.7,813.8 L849.9,809.2 L850.2,804.7 L850.5,800.3 L851,795.9 L851.5,791.5"/><path class="r t" d="M847.9,827.5 L847.9,822.8 L848,818 L848.1,813.2 L848.4,808.5 L848.7,803.8 L849.1,799.1 L849.5,794.5 L850,790"/><path class="r t" d="M854.6,772.3 L855.5,768.4 L856.4,764.7 L857.4,761.1 L858.4,757.7 L859.5,754.3 L860.6,751.2 L861.8,748.1 L863,745.3"/><path class="r t" d="M853.3,769.9 L854.2,765.9 L855.2,762 L856.2,758.2 L857.3,754.6 L858.4,751.2 L859.5,747.8 L860.8,744.7 L862,741.7"/><path class="r t" d="M869.2,734.1 L870.6,732.2 L872.1,730.6 L873.5,729.1 L875,727.8 L876.5,726.7 L878.1,725.8 L879.6,725.1 L881.1,724.6"/><path class="r t" d="M868.5,730 L870,728.1 L871.5,726.3 L873.1,724.8 L874.6,723.4 L876.2,722.3 L877.8,721.4 L879.4,720.6 L881,720.1"/><path class="r t" d="M888.4,725.1 L890,725.8 L891.5,726.7 L893,727.8 L894.5,729.1 L896,730.6 L897.4,732.3 L898.8,734.1 L900.2,736.2"/><path class="r t" d="M888.6,720.7 L890.2,721.4 L891.8,722.3 L893.4,723.4 L895,724.8 L896.5,726.3 L898,728.1 L899.5,730.1 L900.9,732.2"/><path class="r t" d="M906.3,748.2 L907.4,751.2 L908.6,754.4 L909.6,757.7 L910.6,761.2 L911.6,764.8 L912.5,768.5 L913.4,772.3 L914.2,776.2"/><path class="r t" d="M907.3,744.7 L908.5,747.9 L909.6,751.2 L910.8,754.7 L911.8,758.3 L912.8,762 L913.8,765.9 L914.7,769.9 L915.5,774"/><path class="r t" d="M915.3,826 L915,827.5 L914.6,829 L914.2,830.5 L913.8,831.9 L913.3,833.3 L912.9,834.6 L912.4,835.9 L912,837.1 L911.5,838.4 L911.1,839.6 L911,840.9 L911.3,842.4 L911.6,844 L911.8,845.6 L912.1,847.3 L912.4,849 L912.7,850.7 L912.9,852.4 L913.1,854.2 L913.3,855.9 L913.5,857.7 L913.6,859.4 L913.7,861.2 L913.7,862.9 L913.7,864.6 L913.6,866.2 L913.5,867.8 L913.3,869.3 L913.1,870.7 L912.8,872.1 L912.5,873.4 L912.1,874.6 L911.7,875.8 L911.2,876.8 L910.7,877.8 L910.2,878.7 L909.7,879.4 L909.1,880.1 L908.5,880.7 L907.9,881.3 L907.3,881.8 L906.6,882.2 L906,882.6 L905.4,882.9 L904.8,883.2 L904.2,883.6 L903.7,884.2 L903.6,885.8 L903.6,887.5 L903.5,889.3 L903.5,891.1 L903.4,893 L903.3,894.9 L903.2,896.7 L903.1,898.6 L902.9,900.4 L902.7,902.1 L902.5,903.8 L902.3,905.4 L902,906.9 L901.7,908.3 L901.3,909.6 L900.9,910.8 L900.5,911.8 L900.1,912.7 L899.6,913.5 L899.1,914.1 L898.6,914.6 L898,915 L897.4,915.2 L896.9,915.3 L896.3,915.2 L895.7,915 L895.1,914.7 L894.4,914.3 L893.8,913.8 L893.2,913.3 L892.6,912.7 L892,912 L891.4,911.3 L890.9,910.6 L890.3,910 L889.8,909.5 L889.4,910.2 L889,911.5 L888.6,912.9 L888.2,914.4 L887.8,915.8 L887.4,917.3 L887,918.7 L886.6,920.1 L886.1,921.4 L885.6,922.6 L885.1,923.7 L884.6,924.7 L884.1,925.5 L883.6,926.3 L883.1,926.8 L882.5,927.3 L882,927.6 L881.5,927.7 L880.9,927.6 L880.4,927.4 L879.8,927.1 L879.3,926.5 L878.8,925.9 L878.3,925.1 L877.8,924.1 L877.3,923 L876.8,921.9 L876.4,920.6 L876,919.2 L875.5,917.8 L875.1,916.3 L874.8,914.8 L874.4,913.3 L874,911.8 L873.7,910.4 L873.3,909 L872.9,908.4 L872.4,908.9 L871.8,909.4 L871.2,910 L870.6,910.6 L870,911.2 L869.4,911.7 L868.8,912.2 L868.1,912.6 L867.5,912.9 L866.9,913.1 L866.3,913.2 L865.7,913.2 L865.1,913 L864.6,912.7 L864,912.3 L863.5,911.7 L863,911 L862.6,910.1 L862.1,909.1 L861.7,908 L861.4,906.8 L861.1,905.4 L860.8,904 L860.5,902.4 L860.3,900.8 L860.1,899.1 L859.9,897.3 L859.8,895.5 L859.7,893.6 L859.6,891.7 L859.6,889.9 L859.6,888 L859.5,886.2 L859.5,884.4 L859.5,882.6 L859.4,881.1 L858.9,880.5 L858.3,880.1 L857.7,879.7 L857.1,879.2 L856.5,878.8 L855.9,878.3 L855.2,877.7 L854.6,877.1 L854.1,876.4 L853.5,875.6 L853,874.7 L852.4,873.8 L852,872.8 L851.5,871.6 L851.2,870.4 L850.8,869.2 L850.5,867.8 L850.3,866.4 L850.1,864.9 L849.9,863.4 L849.8,861.8 L849.8,860.1 L849.8,858.4 L849.8,856.7 L849.9,855 L850.1,853.3 L850.3,851.5 L850.5,849.8 L850.7,848.1 L851,846.4 L851.3,844.7 L851.6,843.1 L851.9,841.4 L852.2,839.9 L852.5,838.3 L852.8,836.9 L852.6,835.5 L852.3,834.3 L851.8,833 L851.4,831.7 L851,830.3 L850.5,828.9 L850.1,827.5 L849.7,826 L849.4,824.5 L849,823 L848.7,821.4 L848.4,819.8 L848.2,818.2 L848,816.6 L847.9,814.9 L847.8,813.3 L847.8,811.7 L847.9,810.1 L847.9,808.5 L848.1,807 L848.3,805.5 L848.5,804 L848.8,802.6 L849.2,801.2 L849.5,799.9 L850,798.6 L850.4,797.4 L850.9,796.3 L851.4,795.2 L852,794.2 L852.5,793.2 L853.1,792.3 L853.7,791.5 L854.2,790.6 L854.7,789.8 L855.3,789 L855.6,787.9 L855.5,786.3 L855.4,784.6 L855.3,782.8 L855.2,781 L855,779.1 L854.9,777.2 L854.9,775.4 L854.8,773.5 L854.8,771.7 L854.8,769.8 L854.9,768.1 L855,766.3 L855.1,764.7 L855.3,763.1 L855.5,761.5 L855.8,760.1 L856.1,758.8 L856.4,757.6 L856.8,756.4 L857.2,755.4 L857.7,754.5 L858.2,753.8 L858.7,753.1 L859.3,752.6 L859.9,752.2 L860.5,751.9 L861.1,751.7 L861.7,751.5 L862.4,751.5 L863,751.6 L863.6,751.7 L864.3,751.8 L864.9,752 L865.5,752.2 L866.1,752.3 L866.6,752.3 L866.9,751 L867.2,749.4 L867.4,747.8 L867.6,746 L867.8,744.3 L868.1,742.6 L868.4,740.9 L868.7,739.2 L869,737.6 L869.3,736.1 L869.7,734.6 L870.1,733.3 L870.5,732.1 L870.9,730.9 L871.4,730 L871.9,729.1 L872.4,728.4 L872.9,727.9 L873.4,727.5 L873.9,727.3 L874.5,727.2 L875.1,727.3 L875.6,727.6 L876.2,728 L876.7,728.5 L877.3,729.1 L877.9,729.9 L878.4,730.8 L879,731.7 L879.5,732.8 L880,733.9 L880.5,735 L881,736.1 L881.5,737.3 L882,738.3 L882.5,739.3 L882.9,739.2 L883.4,738.3 L883.9,737.3 L884.4,736.2 L884.9,735.2 L885.4,734.1 L886,733.1 L886.5,732.1 L887.1,731.3 L887.7,730.5 L888.2,729.8 L888.8,729.2 L889.4,728.8 L890,728.5 L890.5,728.4 L891.1,728.4 L891.6,728.5 L892.2,728.8 L892.7,729.3 L893.2,729.9 L893.7,730.7 L894.1,731.6 L894.6,732.6 L895,733.8 L895.4,735.1 L895.7,736.5 L896.1,738 L896.4,739.6 L896.7,741.3 L896.9,743 L897.2,744.7 L897.4,746.5 L897.6,748.2 L897.8,750 L898,751.7 L898.2,753.3 L898.5,754.5 L899.1,754.5 L899.7,754.4 L900.3,754.3 L900.9,754.3 L901.6,754.2 L902.2,754.2 L902.8,754.2 L903.5,754.4 L904.1,754.6 L904.7,754.9 L905.3,755.3 L905.9,755.8 L906.4,756.4 L906.9,757.1 L907.4,758 L907.9,758.9 L908.3,760 L908.6,761.2 L909,762.5 L909.2,763.8 L909.5,765.3 L909.7,766.9 L909.8,768.5 L909.9,770.2 L910,771.9 L910,773.7 L910,775.5 L910,777.4 L909.9,779.2 L909.8,781.1 L909.6,783 L909.5,784.8 L909.4,786.6 L909.2,788.3 L909.1,790 L909,791.6 L909.3,792.7 L909.8,793.6 L910.4,794.5 L910.9,795.4 L911.5,796.3 L912,797.3 L912.5,798.4 L913.1,799.5 L913.6,800.6 L914,801.8 L914.5,803.1 L914.9,804.4 L915.2,805.8 L915.5,807.2 L915.8,808.6 L916,810.2 L916.2,811.7 L916.3,813.3 L916.4,814.8 L916.4,816.4 L916.3,818.1 L916.2,819.7 L916,821.3 L915.8,822.9 L915.6,824.4Z"/><ellipse class="r" cx="876" cy="822" rx="30.6" ry="90"/><ellipse class="r t" cx="875.4" cy="822" rx="28.9" ry="85"/><ellipse class="r" cx="872" cy="822" rx="19.4" ry="57"/><ellipse class="r t" cx="871.5" cy="822" rx="18" ry="53"/><ellipse class="r t" cx="870.2" cy="822" rx="14.3" ry="42"/><ellipse class="r" cx="872" cy="821" rx="7.5" ry="24"/><ellipse class="r" cx="872.5" cy="821" rx="5.5" ry="19"/><ellipse class="r t" cx="871.5" cy="821" rx="11" ry="33"/><path class="r" d="M883,786 C884.3,785.7 887.7,784 891,784 C894.3,784 900.5,783 903,786 C905.5,789 905.3,796 906,802 C906.7,808 907,815 907,822 C907,829 907,838.2 906,844 C905,849.8 903.8,854.3 901,857 C898.2,859.7 892,859.8 889,860 C886,860.2 884,858.3 883,858"/><path class="r t" d="M887,788 L887,856"/><path class="r t" d="M897,792 L899,852"/><path class="r" d="M851.9,781 C851.2,779 852.4,778.1 852.8,776.7 C853.1,775.3 853.4,774 853.7,772.7 C854.1,771.3 854.4,770 854.8,768.7 C855.2,767.5 855.6,766.2 855.9,765 C856.3,763.8 856.7,762.7 857.2,761.5 C857.6,760.4 858,759.3 858.5,758.3 C858.9,757.2 859.3,756.2 859.8,755.2 C860.3,754.3 860.7,753.3 861.2,752.5 C861.7,751.6 862.2,750.7 862.7,749.9 C863.2,749.1 863.7,748.4 864.2,747.7 C864.7,747 865.3,746.3 865.8,745.7 C866.3,745.1 866.8,744.5 867.4,744 C867.9,743.5 868.5,743 869,742.6 C869.6,742.2 870.1,741.8 870.7,741.5 C871.2,741.2 871.8,740.9 872.4,740.7 C872.9,740.5 873.5,740.3 874.1,740.2 C874.6,740.1 875.2,740 875.8,740 C876.3,740 876.9,740 877.5,740.1 C878,740.2 878.6,740.3 879.2,740.5 C879.7,740.7 880.3,741 880.8,741.2 C881.4,741.5 882,741.9 882.5,742.3 C883.1,742.7 883.6,743.1 884.2,743.6 C884.7,744.1 885.2,744.6 885.8,745.2 C886.3,745.8 886.8,746.4 887.3,747.1 C887.9,747.8 888.4,748.5 888.9,749.3 C889.4,750 889.9,750.9 890.4,751.7 C890.8,752.6 891.3,753.5 891.8,754.4 C892.3,755.4 892.7,756.4 893.2,757.4 C893.6,758.4 894,759.5 894.5,760.6 C894.9,761.7 896.1,761.6 895.7,764 C895.3,766.5 892.7,773.9 891.9,775.3 C891.1,776.8 891.2,773.5 890.9,772.6 C890.5,771.7 890.2,770.8 889.8,770 C889.5,769.2 889.1,768.4 888.7,767.6 C888.3,766.8 887.9,766.1 887.6,765.4 C887.2,764.7 886.8,764.1 886.4,763.5 C886,762.8 885.5,762.3 885.1,761.7 C884.7,761.2 884.3,760.6 883.9,760.2 C883.4,759.7 883,759.3 882.6,758.9 C882.1,758.5 881.7,758.1 881.2,757.8 C880.8,757.5 880.3,757.2 879.9,757 C879.4,756.8 879,756.6 878.5,756.4 C878.1,756.3 877.6,756.2 877.2,756.1 C876.7,756 876.3,756 875.8,756 C875.3,756 874.9,756.1 874.4,756.2 C874,756.3 873.5,756.4 873.1,756.6 C872.6,756.7 872.2,757 871.7,757.2 C871.3,757.5 870.8,757.8 870.4,758.1 C869.9,758.4 869.5,758.8 869.1,759.2 C868.6,759.6 868.2,760.1 867.8,760.6 C867.4,761.1 866.9,761.6 866.5,762.2 C866.1,762.8 865.7,763.4 865.3,764 C864.9,764.6 864.5,765.3 864.1,766 C863.7,766.7 863.3,767.5 863,768.3 C862.6,769 862.2,769.9 861.9,770.7 C861.5,771.6 861.2,772.4 860.8,773.3 C860.5,774.2 860.2,775.2 859.9,776.2 C859.5,777.1 859.2,778.1 858.9,779.1 C858.6,780.2 858.4,781.2 858.1,782.3 C857.8,783.4 857.5,784.5 857.3,785.6 C857,786.7 857.5,789.8 856.6,789 C855.7,788.2 852.5,783 851.9,781Z"/><path class="r t" d="M856.6,775.2 C856.8,774.7 857.2,773.2 857.5,772.2 C857.8,771.2 858.1,770.2 858.4,769.3 C858.7,768.3 859,767.4 859.3,766.5 C859.7,765.6 860,764.7 860.3,763.9 C860.7,763 861,762.2 861.4,761.4 C861.7,760.6 862.1,759.9 862.5,759.1 C862.8,758.4 863.2,757.7 863.6,757 C864,756.3 864.4,755.7 864.8,755.1 C865.2,754.4 865.6,753.9 866,753.3 C866.4,752.7 866.8,752.2 867.2,751.7 C867.6,751.2 868,750.7 868.4,750.3 C868.9,749.9 869.3,749.5 869.7,749.1 C870.1,748.7 870.6,748.4 871,748.1 C871.4,747.8 871.9,747.5 872.3,747.3 C872.7,747 873.2,746.8 873.6,746.7 C874.1,746.5 874.5,746.3 875,746.2 C875.4,746.1 875.8,746.1 876.3,746 C876.7,746 877.2,746 877.6,746 C878.1,746.1 878.5,746.1 879,746.2 C879.4,746.3 879.9,746.5 880.3,746.6 C880.7,746.8 881.2,747 881.6,747.2 C882.1,747.5 882.5,747.7 882.9,748 C883.4,748.3 883.8,748.7 884.2,749 C884.7,749.4 885.1,749.8 885.5,750.2 C885.9,750.7 886.3,751.1 886.7,751.6 C887.2,752.1 887.6,752.6 888,753.2 C888.4,753.8 888.8,754.3 889.2,755 C889.6,755.6 890,756.2 890.3,756.9 C890.7,757.6 891.1,758.3 891.5,759 C891.8,759.8 892.4,760.9 892.6,761.3"/><path class="r t" d="M859.1,774.5 C859.2,774.1 859.6,772.9 859.8,772.1 C860.1,771.3 860.4,770.5 860.7,769.7 C860.9,769 861.2,768.2 861.5,767.5 C861.8,766.8 862.1,766.1 862.4,765.4 C862.7,764.8 863,764.1 863.3,763.5 C863.6,762.9 864,762.2 864.3,761.7 C864.6,761.1 864.9,760.5 865.3,760 C865.6,759.4 865.9,758.9 866.3,758.4 C866.6,757.9 866.9,757.4 867.3,757 C867.6,756.5 868,756.1 868.3,755.7 C868.7,755.3 869.1,754.9 869.4,754.6 C869.8,754.2 870.1,753.9 870.5,753.6 C870.9,753.3 871.2,753 871.6,752.8 C872,752.5 872.4,752.3 872.7,752.1 C873.1,751.9 873.5,751.8 873.8,751.6 C874.2,751.5 874.6,751.3 875,751.2 C875.4,751.2 875.7,751.1 876.1,751 C876.5,751 876.9,751 877.3,751 C877.6,751 878,751.1 878.4,751.1 C878.8,751.2 879.1,751.3 879.5,751.4 C879.9,751.5 880.3,751.6 880.7,751.8 C881,752 881.4,752.2 881.8,752.4 C882.1,752.6 882.5,752.9 882.9,753.1 C883.2,753.4 883.6,753.7 884,754 C884.3,754.4 884.7,754.7 885.1,755.1 C885.4,755.4 885.8,755.8 886.1,756.3 C886.5,756.7 886.8,757.1 887.2,757.6 C887.5,758.1 887.8,758.6 888.2,759.1 C888.5,759.6 888.9,760.1 889.2,760.7 C889.5,761.3 890,762.2 890.1,762.5"/><path class="r" d="M895.7,880 C896.1,882.4 894.9,882.3 894.5,883.4 C894,884.5 893.6,885.6 893.2,886.6 C892.7,887.6 892.3,888.6 891.8,889.6 C891.3,890.5 890.8,891.4 890.4,892.3 C889.9,893.1 889.4,894 888.9,894.7 C888.4,895.5 887.9,896.2 887.3,896.9 C886.8,897.6 886.3,898.2 885.8,898.8 C885.2,899.4 884.7,899.9 884.2,900.4 C883.6,900.9 883.1,901.3 882.5,901.7 C882,902.1 881.4,902.5 880.8,902.8 C880.3,903 879.7,903.3 879.2,903.5 C878.6,903.7 878,903.8 877.5,903.9 C876.9,904 876.3,904 875.8,904 C875.2,904 874.6,903.9 874.1,903.8 C873.5,903.7 872.9,903.5 872.4,903.3 C871.8,903.1 871.2,902.8 870.7,902.5 C870.1,902.2 869.6,901.8 869,901.4 C868.5,901 867.9,900.5 867.4,900 C866.8,899.5 866.3,898.9 865.8,898.3 C865.3,897.7 864.7,897 864.2,896.3 C863.7,895.6 863.2,894.9 862.7,894.1 C862.2,893.3 861.7,892.4 861.2,891.5 C860.7,890.7 860.3,889.7 859.8,888.8 C859.3,887.8 858.9,886.8 858.5,885.7 C858,884.7 857.6,883.6 857.2,882.5 C856.7,881.3 856.3,880.2 855.9,879 C855.6,877.8 855.2,876.5 854.8,875.3 C854.4,874 854.1,872.7 853.7,871.3 C853.4,870 853.1,868.7 852.8,867.3 C852.4,865.9 851.2,865 851.9,863 C852.5,861 855.7,855.8 856.6,855 C857.5,854.2 857,857.3 857.3,858.4 C857.5,859.5 857.8,860.6 858.1,861.7 C858.4,862.8 858.6,863.8 858.9,864.9 C859.2,865.9 859.5,866.9 859.9,867.8 C860.2,868.8 860.5,869.8 860.8,870.7 C861.2,871.6 861.5,872.4 861.9,873.3 C862.2,874.1 862.6,875 863,875.7 C863.3,876.5 863.7,877.3 864.1,878 C864.5,878.7 864.9,879.4 865.3,880 C865.7,880.6 866.1,881.2 866.5,881.8 C866.9,882.4 867.4,882.9 867.8,883.4 C868.2,883.9 868.6,884.4 869.1,884.8 C869.5,885.2 869.9,885.6 870.4,885.9 C870.8,886.2 871.3,886.5 871.7,886.8 C872.2,887 872.6,887.3 873.1,887.4 C873.5,887.6 874,887.7 874.4,887.8 C874.9,887.9 875.3,888 875.8,888 C876.3,888 876.7,888 877.2,887.9 C877.6,887.8 878.1,887.7 878.5,887.6 C879,887.4 879.4,887.2 879.9,887 C880.3,886.8 880.8,886.5 881.2,886.2 C881.7,885.9 882.1,885.5 882.6,885.1 C883,884.7 883.4,884.3 883.9,883.8 C884.3,883.4 884.7,882.8 885.1,882.3 C885.5,881.7 886,881.2 886.4,880.5 C886.8,879.9 887.2,879.3 887.6,878.6 C887.9,877.9 888.3,877.2 888.7,876.4 C889.1,875.6 889.5,874.8 889.8,874 C890.2,873.2 890.5,872.3 890.9,871.4 C891.2,870.5 891.1,867.2 891.9,868.7 C892.7,870.1 895.3,877.5 895.7,880Z"/><path class="r t" d="M892.6,882.7 C892.4,883.1 891.8,884.2 891.5,885 C891.1,885.7 890.7,886.4 890.3,887.1 C890,887.8 889.6,888.4 889.2,889 C888.8,889.7 888.4,890.2 888,890.8 C887.6,891.4 887.2,891.9 886.7,892.4 C886.3,892.9 885.9,893.3 885.5,893.8 C885.1,894.2 884.7,894.6 884.2,895 C883.8,895.3 883.4,895.7 882.9,896 C882.5,896.3 882.1,896.5 881.6,896.8 C881.2,897 880.7,897.2 880.3,897.4 C879.9,897.5 879.4,897.7 879,897.8 C878.5,897.9 878.1,897.9 877.6,898 C877.2,898 876.7,898 876.3,898 C875.8,897.9 875.4,897.9 875,897.8 C874.5,897.7 874.1,897.5 873.6,897.3 C873.2,897.2 872.7,897 872.3,896.7 C871.9,896.5 871.4,896.2 871,895.9 C870.6,895.6 870.1,895.3 869.7,894.9 C869.3,894.5 868.9,894.1 868.4,893.7 C868,893.3 867.6,892.8 867.2,892.3 C866.8,891.8 866.4,891.3 866,890.7 C865.6,890.1 865.2,889.6 864.8,888.9 C864.4,888.3 864,887.7 863.6,887 C863.2,886.3 862.8,885.6 862.5,884.9 C862.1,884.1 861.7,883.4 861.4,882.6 C861,881.8 860.7,881 860.3,880.1 C860,879.3 859.7,878.4 859.3,877.5 C859,876.6 858.7,875.7 858.4,874.7 C858.1,873.8 857.8,872.8 857.5,871.8 C857.2,870.8 856.8,869.3 856.6,868.8"/><path class="r t" d="M890.1,881.5 C890,881.8 889.5,882.7 889.2,883.3 C888.9,883.9 888.5,884.4 888.2,884.9 C887.8,885.4 887.5,885.9 887.2,886.4 C886.8,886.9 886.5,887.3 886.1,887.7 C885.8,888.2 885.4,888.6 885.1,888.9 C884.7,889.3 884.3,889.6 884,890 C883.6,890.3 883.2,890.6 882.9,890.9 C882.5,891.1 882.1,891.4 881.8,891.6 C881.4,891.8 881,892 880.7,892.2 C880.3,892.4 879.9,892.5 879.5,892.6 C879.1,892.7 878.8,892.8 878.4,892.9 C878,892.9 877.6,893 877.3,893 C876.9,893 876.5,893 876.1,893 C875.7,892.9 875.4,892.8 875,892.8 C874.6,892.7 874.2,892.5 873.8,892.4 C873.5,892.2 873.1,892.1 872.7,891.9 C872.4,891.7 872,891.5 871.6,891.2 C871.2,891 870.9,890.7 870.5,890.4 C870.1,890.1 869.8,889.8 869.4,889.4 C869.1,889.1 868.7,888.7 868.3,888.3 C868,887.9 867.6,887.5 867.3,887 C866.9,886.6 866.6,886.1 866.3,885.6 C865.9,885.1 865.6,884.6 865.3,884 C864.9,883.5 864.6,882.9 864.3,882.3 C864,881.8 863.6,881.1 863.3,880.5 C863,879.9 862.7,879.2 862.4,878.6 C862.1,877.9 861.8,877.2 861.5,876.5 C861.2,875.8 860.9,875 860.7,874.3 C860.4,873.5 860.1,872.7 859.8,871.9 C859.6,871.1 859.2,869.9 859.1,869.5"/>
<ellipse class="r" cx="847" cy="529" rx="18" ry="47"/><ellipse class="r t" cx="846.2" cy="529" rx="16.2" ry="44.2"/><ellipse class="r t" cx="843" cy="529" rx="6.5" ry="18.8"/><ellipse class="r t" cx="843" cy="529" rx="3.6" ry="14.1"/><path class="r t" d="M843,514.9 L843,543.1"/>
<ellipse class="r" cx="992" cy="538" rx="18" ry="47.5"/><ellipse class="r t" cx="991.2" cy="538" rx="16.2" ry="44.6"/><ellipse class="r t" cx="990" cy="538" rx="9" ry="23.8"/><ellipse class="r t" cx="990" cy="538" rx="7.2" ry="19"/><ellipse class="r t" cx="990" cy="538" rx="5.4" ry="14.2"/><ellipse class="r t" cx="990" cy="538" rx="3.6" ry="9.5"/>
<ellipse class="r" cx="816" cy="820" rx="19" ry="47"/><ellipse class="r t" cx="815.2" cy="820" rx="17.1" ry="44.2"/><ellipse class="r t" cx="812" cy="820" rx="6.8" ry="18.8"/><ellipse class="r t" cx="812" cy="820" rx="3.8" ry="14.1"/><path class="r t" d="M812,805.9 L812,834.1"/>
<ellipse class="r" cx="960" cy="818" rx="18" ry="47"/><ellipse class="r t" cx="959.2" cy="818" rx="16.2" ry="44.2"/><ellipse class="r t" cx="958" cy="818" rx="9" ry="23.5"/><ellipse class="r t" cx="958" cy="818" rx="7.2" ry="18.8"/><ellipse class="r t" cx="958" cy="818" rx="5.4" ry="14.1"/><ellipse class="r t" cx="958" cy="818" rx="3.6" ry="9.4"/>
<text class="lb" transform="translate(219.1 255.2) scale(0.4412 0.4449)" font-size="100">4</text>
<text class="lb" transform="translate(58.5 342.6) scale(0.3830 0.4143)" font-size="100">5</text>
<text class="lb" transform="translate(496.3 271.6) scale(0.4149 0.4143)" font-size="100">5</text>
<text class="lb" transform="translate(117.1 555.4) scale(0.4510 0.4265)" font-size="100">4</text>
<text class="lb" transform="translate(87.7 714.2) scale(0.5038 0.4973)" font-size="100">X7/X9</text>
<text class="lb" transform="translate(355.3 724.6) scale(0.4255 0.3944)" font-size="100">3</text>
<text class="lb" transform="translate(457.8 881) scale(0.4348 0.4286)" font-size="100">2</text>
<text class="lb" transform="translate(1056.8 416) scale(0.4348 0.4143)" font-size="100">2</text>
<text class="lb" transform="translate(883.2 691.7) scale(0.4348 0.4478)" font-size="100">7</text>
<g transform="translate(154.5 180.5) rotate(55)"><ellipse class="k" cx="0" cy="0" rx="7.5" ry="14.5"/><ellipse class="k t" cx="-0.5" cy="0" rx="5.4" ry="10.4"/><ellipse class="k t" cx="0" cy="0" rx="2.9" ry="6.1"/><path class="k" d="M0,-14.5 L12,-14.5 A7.5,14.5 0 0 1 12,14.5 L0,14.5"/><path class="k t" d="M8,-14.5 A7.5,14.5 0 0 1 8,14.5"/><path class="k" d="M18.1,-8.5 L68,-8.5 A4.4,8.5 0 0 1 68,8.5 L18.1,8.5"/><path class="k t" d="M65.5,-8.5 A4.4,8.5 0 0 1 65.5,8.5"/></g>
<g transform="translate(231.5 171.5) rotate(55)"><ellipse class="k" cx="0" cy="0" rx="7.5" ry="14.5"/><ellipse class="k t" cx="-0.5" cy="0" rx="5.4" ry="10.4"/><ellipse class="k t" cx="0" cy="0" rx="2.9" ry="6.1"/><path class="k" d="M0,-14.5 L12,-14.5 A7.5,14.5 0 0 1 12,14.5 L0,14.5"/><path class="k t" d="M8,-14.5 A7.5,14.5 0 0 1 8,14.5"/><path class="k" d="M18.1,-8.5 L68,-8.5 A4.4,8.5 0 0 1 68,8.5 L18.1,8.5"/><path class="k t" d="M65.5,-8.5 A4.4,8.5 0 0 1 65.5,8.5"/></g>
<ellipse class="k" cx="48.8" cy="389" rx="33.8" ry="45" transform="rotate(-3 48.8 389)"/><ellipse class="k" cx="46" cy="390" rx="24" ry="34" transform="rotate(-3 46 390)"/><ellipse class="k t" cx="45.5" cy="391" rx="21" ry="31" transform="rotate(-3 45.5 391)"/><ellipse class="k" cx="50.5" cy="387.5" rx="17" ry="21"/><ellipse class="k t" cx="51.5" cy="388.5" rx="12.5" ry="19"/><path class="k" d="M71.7,354 L123,349"/><path class="k" d="M80,415 L128,408"/><path class="k" d="M123,349 C124,350.8 127.5,355.2 129,360 C130.5,364.8 131.7,372.2 132,378 C132.3,383.8 131.7,390 131,395 C130.3,400 128.5,405.8 128,408"/><path class="k" d="M129,352 C132.5,351.6 145.3,348.7 150,349.5 C154.7,350.3 155.3,352.6 157,357 C158.7,361.4 160,369.7 160,376 C160,382.3 158.7,390.7 157,395 C155.3,399.3 154,400.5 150,402 C146,403.5 135.8,403.7 133,404"/><path class="k t" d="M130,352 C130.7,354 133.1,359.8 134,364 C134.9,368.2 135.5,372.7 135.5,377 C135.5,381.3 134.9,385.7 134,390 C133.1,394.3 130.7,400.8 130,403"/><path class="k t" d="M134,352 C134.7,354 137.1,359.8 138,364 C138.9,368.2 139.5,372.7 139.5,377 C139.5,381.3 138.9,385.7 138,390 C137.1,394.3 134.7,400.8 134,403"/><path class="k t" d="M138,352 C138.7,354 141.1,359.8 142,364 C142.9,368.2 143.5,372.7 143.5,377 C143.5,381.3 142.9,385.7 142,390 C141.1,394.3 138.7,400.8 138,403"/><path class="k t" d="M142,352 C142.7,354 145.1,359.8 146,364 C146.9,368.2 147.5,372.7 147.5,377 C147.5,381.3 146.9,385.7 146,390 C145.1,394.3 142.7,400.8 142,403"/><path class="k t" d="M146,352 C146.7,354 149.1,359.8 150,364 C150.9,368.2 151.5,372.7 151.5,377 C151.5,381.3 150.9,385.7 150,390 C149.1,394.3 146.7,400.8 146,403"/><path class="k t" d="M150,352 C150.7,354 153.1,359.8 154,364 C154.9,368.2 155.5,372.7 155.5,377 C155.5,381.3 154.9,385.7 154,390 C153.1,394.3 150.7,400.8 150,403"/><path class="k t" d="M17,390 L135,378"/>
<g transform="translate(292.5 248.5) rotate(57)"><ellipse class="k" cx="0" cy="0" rx="7.5" ry="14"/><ellipse class="k t" cx="0.5" cy="0" rx="5.2" ry="10.1"/><path class="k t" d="M-3,-6 L3,-6 M-3,6 L3,6"/><path class="k t" d="M4,-13.5 A7.2,13.5 0 0 1 4,13.5"/><path class="k t" d="M8,-13 A7,13 0 0 1 8,13"/><path class="k t" d="M12,-13.5 A7.2,13.5 0 0 1 12,13.5"/><path class="k t" d="M16,-14 A7.5,14 0 0 1 16,14"/><path class="k t" d="M20,-14.5 A7.8,14.5 0 0 1 20,14.5"/><path class="k t" d="M24,-15 A8,15 0 0 1 24,15"/><path class="k" d="M0,-14 L24,-15 M0,14 L24,15"/><path class="k" d="M24,-15 L24,-19.5 M24,15 L24,19.5"/><path class="k" d="M24,-19.5 L31,-19.5 A10.4,19.5 0 0 1 31,19.5 L24,19.5"/><path class="k t" d="M24,-19.5 A10.4,19.5 0 0 1 24,19.5"/><path class="k t" d="M-6,-4 L20,-2 M-5,3 L22,5"/></g>
<g transform="translate(233 283.5) rotate(57)"><ellipse class="k" cx="0" cy="0" rx="7.5" ry="14"/><ellipse class="k t" cx="0.5" cy="0" rx="5.2" ry="10.1"/><path class="k t" d="M-3,-6 L3,-6 M-3,6 L3,6"/><path class="k t" d="M4,-13.5 A7.2,13.5 0 0 1 4,13.5"/><path class="k t" d="M8,-13 A7,13 0 0 1 8,13"/><path class="k t" d="M12,-13.5 A7.2,13.5 0 0 1 12,13.5"/><path class="k t" d="M16,-14 A7.5,14 0 0 1 16,14"/><path class="k t" d="M20,-14.5 A7.8,14.5 0 0 1 20,14.5"/><path class="k t" d="M24,-15 A8,15 0 0 1 24,15"/><path class="k" d="M0,-14 L24,-15 M0,14 L24,15"/><path class="k" d="M24,-15 L24,-19.5 M24,15 L24,19.5"/><path class="k" d="M24,-19.5 L31,-19.5 A10.4,19.5 0 0 1 31,19.5 L24,19.5"/><path class="k t" d="M24,-19.5 A10.4,19.5 0 0 1 24,19.5"/><path class="k t" d="M-6,-4 L20,-2 M-5,3 L22,5"/></g>
<ellipse class="k" cx="152.5" cy="489" rx="12.5" ry="18" transform="rotate(-8 152.5 489)"/><ellipse class="k" cx="152.5" cy="488" rx="8" ry="10.5" transform="rotate(-8 152.5 488)"/><ellipse class="k t" cx="153" cy="488" rx="5.5" ry="8" transform="rotate(-8 153 488)"/><path class="k" d="M141,476 C140,477 136.3,479.3 135,482 C133.7,484.7 133,488.7 133,492 C133,495.3 133.8,499.5 135,502 C136.2,504.5 139.2,506.2 140,507"/><path class="k" d="M141,476 L148,472"/><path class="k" d="M140,507 L150,506"/>
<g transform="translate(304 752) rotate(-64)"><ellipse class="k" cx="0" cy="0" rx="10" ry="18"/><ellipse class="k t" cx="0.8" cy="0" rx="8.3" ry="15.5"/><path class="k t" d="M5.5,0 L2.8,8.2 L-2.7,8.2 L-5.5,0 L-2.8,-8.2 L2.8,-8.2Z"/><path class="k" d="M0,-18 L14,-18.5 M0,18 L14,18.5"/><path class="k t" d="M14,-18.5 A10,18.5 0 0 1 14,18.5"/><path class="k" d="M16,-18.5 L17,-25 A13,25 0 0 1 17,25 L16,18.5"/><path class="k" d="M21,-25 A13,25 0 0 1 21,25 M17,-25 L21,-25 M17,25 L21,25"/><path class="k t" d="M19,-25 A13,25 0 0 1 19,25"/><path class="k" d="M27,-11 L65,-11 M27,11 L65,11"/><path class="k" d="M65,-11 A6,11 0 0 1 65,11"/><path class="k t" d="M62,-11 A5.5,11 0 0 1 62,11"/></g>
<path class="k" d="M338,300 C356,298 368,318 371.5,345 C373,372 362,393 344,395"/><path class="k t" d="M340,301 C357,300 366,318 369.5,345 C371,372 360,391 343,393.5"/><ellipse class="k" cx="335.7" cy="348.7" rx="24.3" ry="34" transform="rotate(4 335.7 348.7)"/><ellipse class="k t" cx="337" cy="349.5" rx="21.5" ry="31.5" transform="rotate(4 337 349.5)"/><path class="k" d="M338,300 L389,292"/><path class="k" d="M389,292 C391.9,293.3 401.5,295.8 406.7,300 C411.9,304.2 416.7,310.6 420,317.3 C423.3,324 425.8,332.9 426.7,340 C427.6,347.1 427.5,353.6 425.3,360 C423.1,366.4 415.3,375.6 413.3,378.7"/><path class="k" d="M413.3,378.7 L358,387"/><path class="k" d="M338,300 C336.1,300.2 330.8,300 326.7,301.3 C322.6,302.6 318.9,302.7 313.3,308 C307.7,313.3 298.9,326.6 293.3,333.3 C287.8,340 284.7,343.2 280,348 C275.3,352.8 270,357 265,362 C260,367 254.8,373.8 250,378 C245.2,382.2 240.8,384.8 236,387.5 C231.2,390.2 225.7,392.6 221,394 C216.3,395.4 210.2,395.7 208,396"/><path class="k" d="M282.7,349.3 L322.7,390.7"/><path class="k" d="M213,423 C215.8,422.5 224,421.2 230,420 C236,418.8 242.8,417.5 249,416 C255.2,414.5 261.3,413 267.5,411 C273.7,409 279.8,406.5 286,404 C292.2,401.5 299.3,398.2 305,396 C310.7,393.8 313.5,391.2 320,391 C326.5,390.8 340,394.3 344,395"/><ellipse class="k" cx="219.4" cy="406.6" rx="15" ry="11" transform="rotate(8 219.4 406.6)"/><path class="k" d="M208,396 C206.7,396.7 201.8,398.2 200,400 C198.2,401.8 197.5,404.5 197.5,407 C197.5,409.5 198.6,412.8 200,415 C201.4,417.2 203.8,418.7 206,420 C208.2,421.3 211.8,422.5 213,423"/><path class="k" d="M198.5,402 C197.5,405.7 194.2,416.8 192.5,424 C190.8,431.2 188.5,440 188,445 C187.5,450 186.6,449 189.4,454 C192.2,459 199.2,467.3 205,475 C210.8,482.7 218.3,492.5 224,500 C229.7,507.5 235.2,515 239,520 C242.8,525 245.7,528.3 247,530"/><path class="k t" d="M203,417 C202.1,420.2 199.2,429.8 197.5,436 C195.8,442.2 193.3,451 192.5,454"/><path class="k" d="M213,423 C213.8,426.2 215.1,435.1 217.5,442.5 C219.9,449.9 223.9,459.6 227.5,467.5 C231.1,475.4 235.2,483.8 239,490 C242.8,496.2 246.5,500.8 250,505 C253.5,509.2 257,512.2 260,515 C263,517.8 266.7,520.8 268,522"/><path class="k" d="M272.5,414 L280,429"/>
<path class="k" d="M267.5,517.5 L300,461"/><path class="k" d="M280,512 L310,458"/><path class="k" d="M270,487 C271,486 274,481.5 276,481 C278,480.5 278,482.2 282,484 C286,485.8 296.2,489.8 300,492 C303.8,494.2 305,495.3 305,497 C305,498.7 304.2,502.3 300,502 C295.8,501.7 284.8,496.7 280,495 C275.2,493.3 272.7,493.3 271,492 C269.3,490.7 270.2,487.8 270,487 C269.8,486.2 269,488 270,487Z"/><path class="k" d="M247,530 L260,522"/><path class="k" d="M293,453 C298,450.8 313.2,443.5 323,440 C332.8,436.5 342.5,434 352,432 C361.5,430 373,428.3 380,428 C387,427.7 391.7,428 394,430 C396.3,432 396,434 394,440 C392,446 385.2,460.2 382,466 C378.8,471.8 376.2,473.5 375,475"/><path class="k t" d="M298,459 C303.3,457 319.7,450.2 330,447 C340.3,443.8 351,441.8 360,440 C369,438.2 379.3,435.5 384,436 C388.7,436.5 389,438 388,443 C387,448 379.7,462.2 378,466"/><path class="k" d="M328,496 C327.7,493.7 325.7,486.3 326,482 C326.3,477.7 328,473.2 330,470 C332,466.8 334.3,464.7 338,463 C341.7,461.3 346.7,460.3 352,460 C357.3,459.7 365.7,460.2 370,461 C374.3,461.8 376.7,464.3 378,465"/><path class="k t" d="M334,494 C334.3,492 334.2,485.3 336,482 C337.8,478.7 341,476 345,474 C349,472 354.8,470.8 360,470 C365.2,469.2 373.3,469.2 376,469"/><ellipse class="k" cx="356" cy="483" rx="20" ry="10" transform="rotate(-22 356 483)"/><ellipse class="k t" cx="357" cy="483" rx="17" ry="7.5" transform="rotate(-22 357 483)"/><ellipse class="k t" cx="344" cy="488" rx="2.6" ry="3.2" transform="rotate(-20 344 488)"/><ellipse class="k t" cx="350" cy="484.8" rx="2.6" ry="3.2" transform="rotate(-20 350 484.8)"/><ellipse class="k t" cx="356" cy="481.6" rx="2.6" ry="3.2" transform="rotate(-20 356 481.6)"/><ellipse class="k t" cx="362" cy="478.4" rx="2.6" ry="3.2" transform="rotate(-20 362 478.4)"/><ellipse class="k t" cx="368" cy="475.2" rx="2.6" ry="3.2" transform="rotate(-20 368 475.2)"/><path class="k" d="M305,430 C304.8,428.3 303.2,422.7 304,420 C304.8,417.3 307,415.2 310,414 C313,412.8 318.3,412.3 322,413 C325.7,413.7 329.5,415.5 332,418 C334.5,420.5 336.3,424.3 337,428 C337.7,431.7 337.5,437.2 336,440 C334.5,442.8 331.5,444.3 328,445 C324.5,445.7 318.5,445.2 315,444 C311.5,442.8 308.7,440.3 307,438 C305.3,435.7 305.3,431.3 305,430 C304.7,428.7 305.2,431.7 305,430Z"/><path class="k t" d="M280,432 C280.7,431 281.5,427.3 284,426 C286.5,424.7 291.5,423.7 295,424 C298.5,424.3 303.3,427.3 305,428"/><path class="k" d="M280,432 C280.3,433.5 280.5,438.2 282,441 C283.5,443.8 286.3,447.2 289,449 C291.7,450.8 296.5,451.5 298,452"/><path class="k t" d="M280,428 L318,413"/><path class="k t" d="M273,413 L282,427 L300,422 L318,413"/><path class="k t" d="M318,392 L330,380"/><path class="k" d="M373,385 L360,427"/><path class="k t" d="M385,382 L372,425"/><path class="k" d="M408,379 L384,413"/><path class="k t" d="M413,379 L393,416"/><path class="k t" d="M360,427 C358,426.2 351,424.5 348,422 C345,419.5 342.5,415.7 342,412 C341.5,408.3 344.5,402 345,400"/><ellipse class="k" cx="390" cy="493.3" rx="18.3" ry="20" transform="rotate(-10 390 493.3)"/><path class="k t" d="M372,490 C373.3,491.7 377.3,496.7 380,500 C382.7,503.3 386.7,508.3 388,510"/><path class="k t" d="M384,508 C385.3,507 389.3,503.3 392,502 C394.7,500.7 397.7,500 400,500 C402.3,500 405,501.7 406,502"/><path class="k t" d="M386,510 C387.5,509.2 392.2,506 395,505 C397.8,504 401.7,504.2 403,504"/>
<path class="k" d="M240,540 C241.1,538.9 242.5,536.1 246.7,533.3 C250.9,530.5 257.8,526.6 265,523.3 C272.2,520 281.7,516.1 290,513.3 C298.3,510.5 306.7,508.9 315,506.7 C323.3,504.5 330.5,502.1 340,500 C349.5,497.9 366.7,495 372,494"/><path class="k t" d="M252,536 C255,534.5 263.3,530 270,527 C276.7,524 284.5,520.7 292,518 C299.5,515.3 307,513.2 315,511 C323,508.8 330.7,507 340,505 C349.3,503 365.8,500 371,499"/><path class="k" d="M400,511.7 C402.5,510.9 408.3,507.5 415,506.7 C421.7,505.9 430.8,506.3 440,506.7 C449.2,507.1 461.7,508.1 470,509 C478.3,509.9 486.7,511.5 490,512"/><path class="k" d="M268.3,536.7 C271.9,535.3 282.2,530.8 290,528.3 C297.8,525.8 306.7,523.6 315,521.7 C323.3,519.8 331.7,517.7 340,516.7 C348.3,515.7 358.1,515.8 365,515.8 C371.9,515.8 376.1,516.3 381.7,516.7 C387.2,517.1 392.8,518.3 398.3,518.3 C403.9,518.3 408.9,517.4 415,516.7 C421.1,516 431.7,514.5 435,514"/><path class="k" d="M290,553.3 C295.6,551.9 312.2,546.9 323.3,545 C334.4,543.1 345.6,542.5 356.7,541.7 C367.8,540.9 378.9,540.8 390,540 C401.1,539.2 415,537.5 423.3,536.7 C431.6,535.9 432.2,535.5 440,535 C447.8,534.5 465,534.2 470,534"/><path class="k t" d="M306.7,525 L323.3,545"/><path class="k t" d="M383,517 L395,540"/><path class="k t" d="M395,517 L408,538"/><path class="k" d="M246,535 C245.5,536.7 243.2,540.8 243,545 C242.8,549.2 243.5,556.3 245,560 C246.5,563.7 248.2,565.3 252,567 C255.8,568.7 262.8,570.2 268,570 C273.2,569.8 279.3,568 283,566 C286.7,564 288.5,560.3 290,558 C291.5,555.7 291.7,553 292,552"/><ellipse class="k" cx="265" cy="556" rx="14.5" ry="11.5" transform="rotate(-8 265 556)"/><ellipse class="k t" cx="265" cy="556" rx="12.5" ry="10" transform="rotate(-8 265 556)"/><path class="k t" d="M252,559 L278,553"/><ellipse class="k" cx="401" cy="551" rx="10" ry="7.5" transform="rotate(-10 401 551)"/><ellipse class="k t" cx="402" cy="552" rx="7" ry="5" transform="rotate(-10 402 552)"/><ellipse class="k" cx="455" cy="530" rx="17.5" ry="11" transform="rotate(-10 455 530)"/><ellipse class="k t" cx="455" cy="530" rx="15" ry="9" transform="rotate(-10 455 530)"/><path class="k" d="M432,520 C431.7,522 429,528.3 430,532 C431,535.7 433.7,540 438,542 C442.3,544 450,544.7 456,544 C462,543.3 470.2,541 474,538 C477.8,535 478.2,528 479,526"/><path class="k" d="M337.5,601 C342.1,599.2 355.2,593.5 365,590 C374.8,586.5 386.8,582.4 396,580 C405.2,577.6 412.2,577.1 420,575.8 C427.8,574.5 435.7,573.5 443,572.3 C450.3,571.1 459.2,569.8 464,568.8 C468.8,567.8 470.7,566.5 472,566"/><path class="k t" d="M370,597.5 C375.4,596.2 394.2,591.9 402.5,590 C410.8,588.1 413.2,587.7 420,586.3 C426.8,584.9 435.2,582.9 443,581.7 C450.8,580.5 461.8,579.6 467,579.3 C472.2,579 472.8,579.9 474,580"/><path class="k" d="M327.5,640 C330.4,640.7 339.6,643.4 345,644 C350.4,644.6 354.2,644.1 360,643.8 C365.8,643.4 375,642.6 380,642 C385,641.4 387.1,641.6 390,640 C392.9,638.4 393.3,634.8 397.5,632.5 C401.7,630.2 407.9,628.5 415,626.2 C422.1,624 433.3,620.8 440,619 C446.7,617.2 446.7,617 455,615.5 C463.3,614 480.7,611.2 490,609.7 C499.3,608.2 507.5,606.8 511,606.2"/><path class="k" d="M471.3,565.3 C474.4,564.7 483.8,561 490,561.8 C496.2,562.6 503.9,566.7 508.7,570 C513.5,573.3 517.5,577.8 519,581.7 C520.5,585.6 519.3,589.4 518,593.3 C516.7,597.2 513.7,602.5 511,605 C508.3,607.5 503.2,607.9 501.7,608.5"/><path class="k t" d="M478,568 C480.3,567.7 487.3,565.2 492,566 C496.7,566.8 502.3,570 506,573 C509.7,576 512.8,580.2 514,584 C515.2,587.8 513.2,594 513,596"/><ellipse class="k" cx="489" cy="592.8" rx="15" ry="11.5" transform="rotate(15 489 592.8)"/><ellipse class="k" cx="489" cy="592.8" rx="13.5" ry="10" transform="rotate(15 489 592.8)"/><path class="k t" d="M476,596 L500,591"/><ellipse class="k" cx="369" cy="625.6" rx="13" ry="10.5" transform="rotate(-10 369 625.6)"/><ellipse class="k t" cx="370" cy="626.5" rx="9" ry="7" transform="rotate(-10 370 626.5)"/><path class="k" d="M342.5,622.5 L370,600"/><path class="k t" d="M346,625 L373,603"/><path class="k" d="M474.8,511.7 C476.6,513.6 482.4,520.8 485.3,523.3 C488.2,525.8 489.6,524.8 492.3,526.8 C495,528.8 499,531.7 501.7,535 C504.4,538.3 506.8,542.8 508.7,546.7 C510.6,550.6 511.7,554 513.3,558.3 C514.8,562.6 516.4,568.4 518,572.3 C519.6,576.2 522.1,577 522.7,581.7 C523.3,586.4 518.6,594.9 521.5,600.3 C524.4,605.7 536.9,612 540,614.3"/><path class="k" d="M476,506 L540,515"/><path class="k t" d="M490,521 L531,526.8"/><path class="k t" d="M489,525 L485,553"/><path class="k t" d="M462,553 L505,570"/><path class="k t" d="M487,528 L482,560"/><path class="k t" d="M483,555 L510,548"/><path class="k t" d="M448,570 C449.2,568.7 451.3,564.3 455,562 C458.7,559.7 464.2,557 470,556 C475.8,555 486.7,556 490,556"/><path class="k t" d="M420,537.3 C422.9,537.3 432.7,535.5 437.5,537.3 C442.3,539 449,542 449,547.8 C449,553.6 439.4,568.2 437.5,572.3"/><path class="k t" d="M420,546.7 L446.8,554.8"/><path class="k t" d="M336,541.5 L339,549"/><path class="k t" d="M342,541.5 L345,549"/><path class="k t" d="M348,541.5 L351,549"/><path class="k t" d="M354,541.5 L357,549"/><path class="k t" d="M360,541.5 L363,549"/><path class="k t" d="M366,541.5 L369,549"/><path class="k t" d="M372,541.5 L375,549"/><path class="k t" d="M378,541.5 L381,549"/><path class="k t" d="M335,550 C339.2,549.8 351.7,549.5 360,549 C368.3,548.5 380.8,547.3 385,547"/><path class="k t" d="M352,551 C351.7,553.3 351.5,560.5 350,565 C348.5,569.5 345.5,574.8 343,578 C340.5,581.2 336.3,583 335,584"/><path class="k t" d="M357,551 C356.8,553.5 357.2,561.2 356,566 C354.8,570.8 351,577.7 350,580"/><path class="k t" d="M375,551 L364,585"/><path class="k t" d="M381,551 L371,583"/><path class="k t" d="M300,560 C303,559.2 313,555.7 318,555 C323,554.3 327.2,555.2 330,556 C332.8,556.8 335.3,558.8 335,560 C334.7,561.2 333,562.2 328,563 C323,563.8 308.8,564.7 305,565"/><path class="k" d="M220,536.2 C219.2,536.9 216.2,538.1 215,540 C213.8,541.9 213,544.6 213,547.5 C213,550.4 215.7,555 215,557.5 C214.3,560 210.6,561 208.8,562.5 C206.9,564 205.2,564.6 203.8,566.2 C202.3,567.9 201.1,569.4 200,572.5 C198.9,575.6 197.5,580.8 196.9,585 C196.3,589.2 195.5,593.3 196.2,597.5 C197,601.7 199.2,606 201.2,610 C203.3,614 205.8,617.9 208.8,621.2 C211.7,624.6 215,627.5 218.8,630 C222.5,632.5 226.2,634 231.2,636.2 C236.2,638.5 243.1,641.7 248.8,643.8 C254.4,645.8 259.8,647.3 265,648.8 C270.2,650.2 274.8,651.5 280,652.5 C285.2,653.5 291.2,654.3 296.2,655 C301.2,655.7 305.2,657 310,656.5 C314.8,656 322.5,652.8 325,652"/><path class="k" d="M220,536.2 C220.8,536.7 222.9,536 225,538.8 C227.1,541.5 230.6,548.8 232.5,552.5 C234.4,556.2 235.6,559.8 236.2,561.2"/><path class="k" d="M232.5,552.5 C233.3,555.4 235.6,565 237.5,570 C239.4,575 241.2,578.8 243.8,582.5 C246.2,586.2 249,589.4 252.5,592.5 C256,595.6 260.4,599 265,601.2 C269.6,603.5 277.5,605.2 280,606"/><path class="k t" d="M205,567.5 C206.7,570 211.7,577.9 215,582.5 C218.3,587.1 221.2,590.8 225,595 C228.8,599.2 232.9,603.8 237.5,607.5 C242.1,611.2 247.1,614.6 252.5,617.5 C257.9,620.4 265.4,623.4 270,625 C274.6,626.6 278.3,626.7 280,627"/><path class="k t" d="M208,564 C209.7,566.5 214.5,574.3 218,579 C221.5,583.7 225.2,587.8 229,592 C232.8,596.2 236.5,600.3 241,604 C245.5,607.7 250.8,611.2 256,614 C261.2,616.8 269.3,619.8 272,621"/><path class="k t" d="M226,560 L233,580"/><path class="k t" d="M270,597 L265,620"/><path class="k t" d="M279,572 L276,600 L300,598"/><ellipse class="k" cx="298" cy="636" rx="15.5" ry="12" transform="rotate(-10 298 636)"/><ellipse class="k t" cx="298" cy="636" rx="13.5" ry="10.5" transform="rotate(-10 298 636)"/><path class="k" d="M280,622 C281.7,620.7 285.8,615.5 290,614 C294.2,612.5 300,612.3 305,613 C310,613.7 316.3,615.5 320,618 C323.7,620.5 326,624 327,628 C328,632 327.5,638 326,642 C324.5,646 322.3,649.7 318,652 C313.7,654.3 303,655.3 300,656"/><path class="k t" d="M284,626 C285.7,624.7 290,619.5 294,618 C298,616.5 304,616.2 308,617 C312,617.8 316.3,622 318,623"/><path class="k t" d="M285,639 L311,633"/>
<path class="k" d="M390,420 C393.3,419.5 401.3,417.9 410,417 C418.7,416.1 431,414.4 442,414.5 C453,414.6 465.5,416.4 476,417.5 C486.5,418.6 499,419.8 505,421 C511,422.2 510.8,424.3 512,425"/><path class="k" d="M512,429 C517.8,430.1 536,432.3 547,435.5 C558,438.7 567.7,443.2 578,448 C588.3,452.8 599.5,459.2 609,464.5 C618.5,469.8 626.2,474.9 635,480 C643.8,485.1 652.8,489.7 662,495 C671.2,500.3 682.3,507.5 690,512 C697.7,516.5 705,520.3 708,522"/><path class="k" d="M405,421 C407.2,420.3 413,417.5 418,417 C423,416.5 430.8,416.8 435,418 C439.2,419.2 442.2,421.7 443,424 C443.8,426.3 443,430 440,432 C437,434 430,435.5 425,436 C420,436.5 413.5,436.3 410,435 C406.5,433.7 404.8,430.3 404,428 C403.2,425.7 404.8,422.2 405,421 C405.2,419.8 402.8,421.7 405,421Z"/><path class="k t" d="M412,434 L418,420"/><path class="k" d="M470,417 C475.8,417.5 497.8,418.3 505,420 C512.2,421.7 512.5,425 513,427 C513.5,429 513.5,431.3 508,432 C502.5,432.7 487,431.7 480,431 C473,430.3 468.3,428.5 466,428"/><path class="k" d="M465.4,428 L432,491.7"/><path class="k" d="M467.5,429 L434,492" style="stroke-width:3"/><path class="k t" d="M484,431 L471.7,487.5"/><path class="k" d="M432,491.7 C434.4,491.9 440.1,492.4 446.7,492.7 C453.3,493 466.8,492.5 471.7,493.8 C476.6,495 475.1,499 475.8,500"/><path class="k" d="M475.8,504 L530,513 L609,533"/><path class="k t" d="M575.8,450 C573.7,454.5 567.9,466.9 563,477 C558.1,487.1 549.4,504.8 546.7,510.4"/><path class="k t" d="M483,504 L490,512"/><ellipse class="k" cx="561" cy="572" rx="33" ry="46" transform="rotate(-4 561 572)"/><ellipse class="k t" cx="562" cy="572" rx="30" ry="43" transform="rotate(-4 562 572)"/><ellipse class="k" cx="562" cy="572" rx="26" ry="38" transform="rotate(-4 562 572)"/><ellipse class="k" cx="561" cy="573" rx="19" ry="27.5" transform="rotate(-4 561 573)"/><ellipse class="k t" cx="561" cy="573" rx="17" ry="25" transform="rotate(-4 561 573)"/><path class="k t" d="M542.5,573 L600,569"/><path class="k" d="M520,540 C519.3,545 515.7,560 516,570 C516.3,580 519.3,592.5 522,600 C524.7,607.5 527.3,611.2 532,615 C536.7,618.8 542,621.5 550,623 C558,624.5 571.7,624.8 580,624 C588.3,623.2 596.7,619 600,618"/><path class="k" d="M527.5,515 C534.6,516.3 556.2,519.7 570,523 C583.8,526.3 596.7,530.5 610,535 C623.3,539.5 640.8,546.7 650,550 C659.2,553.3 660.8,552.9 665,555 C669.2,557.1 672.1,559.2 675,562.5 C677.9,565.8 681.2,572.9 682.5,575"/><path class="k t" d="M598,540 C606.7,542.7 638.7,552.3 650,556 C661.3,559.7 662.3,559.3 666,562 C669.7,564.7 671,568.2 672,572 C673,575.8 672,582.8 672,585"/><path class="k t" d="M608,608 L640,620 L665,628"/><path class="k" d="M600,618 C605,620 620,626.3 630,630 C640,633.7 653.7,637 660,640 C666.3,643 666.7,646.7 668,648"/><path class="k t" d="M665,553 L656,590 L648,600"/><path class="k" d="M505,608 C510.8,610 529.2,616.8 540,620 C550.8,623.2 560,624.5 570,627 C580,629.5 588.3,631.2 600,635 C611.7,638.8 628.7,645.8 640,650 C651.3,654.2 663.3,658.3 668,660"/><path class="k" d="M614,465.5 C615.4,462 617.8,450.8 622.5,444.5 C627.2,438.2 633.8,432 642,428 C650.2,424 662.8,420.8 672,420.5 C681.2,420.2 689.5,423.2 697.5,426.5 C705.5,429.8 713.8,434.5 720,440 C726.2,445.5 731,453.2 735,459.5 C739,465.8 741.5,471.2 744,477.5 C746.5,483.8 748.2,489.5 750,497 C751.8,504.5 753,514.5 754.5,522.5 C756,530.5 758,537.5 759,545 C760,552.5 760.3,560 760.5,567.5 C760.7,575 760.6,583.2 760,590 C759.4,596.8 757.5,605 757,608"/><path class="k" d="M619.5,468.5 C622.5,466 629.5,458 637.5,453.5 C645.5,449 658.8,442.8 667.5,441.5 C676.2,440.2 683.2,443 690,446 C696.8,449 702.5,453 708,459.5 C713.5,466 718.5,477 723,485 C727.5,493 731.5,500 735,507.5 C738.5,515 741.8,521.2 744,530 C746.2,538.8 747.5,550 748.5,560 C749.5,570 750.1,582.7 750,590 C749.9,597.3 748.3,601.7 748,604"/><path class="k t" d="M725,490 C726.7,493 732.2,502.2 735,508 C737.8,513.8 740,518.8 742,525 C744,531.2 746.2,541.7 747,545"/><path class="k t" d="M747,500 C747.8,503.3 750.7,512.5 752,520 C753.3,527.5 754.3,535.8 755,545 C755.7,554.2 755.8,570 756,575"/><path class="k t" d="M726,491 L742,491 L746,494"/><path class="k t" d="M731,497 L746,499"/><path class="k t" d="M750,540 L756,540"/><path class="k" d="M637.5,480.5 C638.2,476.5 644.5,468.2 649.5,464 C654.5,459.8 661.2,455.8 667.5,455 C673.8,454.2 681.2,456.2 687,459.5 C692.8,462.8 700,469.5 702,474.5 C704,479.5 702,484.5 699,489.5 C696,494.5 688.5,501.8 684,504.5 C679.5,507.2 676.5,507.2 672,506 C667.5,504.8 661.5,500 657,497 C652.5,494 648.2,490.8 645,488 C641.8,485.2 636.8,484.5 637.5,480.5Z"/><path class="k t" d="M647,475 C648.7,473.5 653.2,468.2 657,466 C660.8,463.8 665.3,462 670,462 C674.7,462 682.5,465.3 685,466"/><path class="k t" d="M660,475 L684,461"/><path class="k t" d="M660,475 L693,470"/><path class="k t" d="M660,475 L697,488"/><path class="k t" d="M660,475 L680,503"/><path class="k" d="M684,505 L708,521.8"/><path class="k" d="M708,522 L732,519.5"/><path class="k" d="M708,522 C706.7,524.2 703,530.3 700,535 C697,539.7 693.4,545.1 690,550 C686.6,554.9 681.2,562.1 679.5,564.5"/><path class="k t" d="M620,474 L621,480"/>
<ellipse class="k" cx="691.5" cy="638.8" rx="23.5" ry="30" transform="rotate(-3 691.5 638.8)"/><ellipse class="k t" cx="693" cy="638.8" rx="21" ry="28" transform="rotate(-3 693 638.8)"/><ellipse class="k" cx="687.5" cy="638.8" rx="15" ry="20" transform="rotate(-3 687.5 638.8)"/><ellipse class="k" cx="687.5" cy="638.8" rx="14" ry="19" transform="rotate(-3 687.5 638.8)"/><path class="k t" d="M676,640 L709,636"/><path class="k" d="M695,608.5 C700.8,607.3 721.9,602.5 730,601.2 C738.1,600 741.5,601.2 743.8,601.2"/><path class="k" d="M692.5,668.8 C697.1,669 711.2,670.2 720,670 C728.8,669.8 740.8,667.9 745,667.5"/><path class="k" d="M743.8,601.2 C746.2,602.9 755,606 758.8,611.2 C762.5,616.5 765.1,625.9 766,632.5 C766.9,639.1 765.8,646 764,651 C762.2,656 758.2,659.8 755,662.5 C751.8,665.2 746.7,666.7 745,667.5"/><path class="k t" d="M747,603 C749.2,604.8 757.5,609.2 760,614 C762.5,618.8 762,625.8 762,632 C762,638.2 761.7,646 760,651 C758.3,656 753.3,660.2 752,662"/><path class="k t" d="M707.5,607.5 C710,610.6 719.6,620 722.5,626.2 C725.4,632.5 725.8,638.5 725,645 C724.2,651.5 718.8,661.7 717.5,665"/><path class="k t" d="M737.5,602.5 C739.6,606.5 748.1,618.1 750,626.2 C751.9,634.4 750.4,644.6 748.8,651.2 C747.1,657.9 741.5,663.8 740,666.2"/><path class="k" d="M600,565 C604.2,566.8 616.7,572.2 625,576 C633.3,579.8 642.5,584.7 650,588 C657.5,591.3 663.8,593.5 670,596 C676.2,598.5 684.2,601.8 687,603"/><path class="k t" d="M600,611.7 C605.8,612.1 623.8,613 635,614 C646.2,615 661.7,617.3 667,618"/><path class="k t" d="M655,589 C656.7,586.7 662.5,579.8 665,575 C667.5,570.2 669.2,562.5 670,560"/><path class="k t" d="M670,593 C671.3,590 676.3,580.5 678,575 C679.7,569.5 679.7,562.5 680,560"/><path class="k" d="M683.8,585 C686.9,584.2 695.2,581.4 702.5,580 C709.8,578.6 720.8,577.3 727.5,576.9 C734.2,576.5 740,577.4 742.5,577.5"/><path class="k" d="M683.8,585 C684.5,587 686.1,593.2 688,597 C689.9,600.8 693.8,606.2 695,608"/><path class="k t" d="M690,587 C690.7,588.8 692.3,594.8 694,598 C695.7,601.2 699,604.7 700,606"/><path class="k t" d="M721,580 C721.8,582 724.5,588.5 726,592 C727.5,595.5 729.3,599.5 730,601"/><path class="k t" d="M730,579 C730.8,581.2 733.5,588.3 735,592 C736.5,595.7 738.3,599.5 739,601"/><path class="k t" d="M742.5,577.5 C743.4,579.6 746.4,585.8 748,590 C749.6,594.2 751.3,600.8 752,603"/><path class="k" d="M668,657 C667.3,657.8 664.2,660.5 664,662 C663.8,663.5 664.5,664.8 667,666 C669.5,667.2 676.2,665.7 679,669 C681.8,672.3 683,681.2 684,686 C685,690.8 684.8,696 685,698"/>
<path class="k" d="M507,767 L517,764 L575,800"/><path class="k t" d="M510,785 L575,802"/><path class="k" d="M507,767 C506.8,769.2 505.3,775.3 506,780 C506.7,784.7 510.2,792.5 511,795"/><path class="k t" d="M517,764 L518,770"/><path class="k" d="M575,800 C579.2,798.3 590.8,794.6 600,790 C609.2,785.4 621.7,777.9 630,772.5 C638.3,767.1 644.2,762.1 650,757.5 C655.8,752.9 660.7,750.9 665,745 C669.3,739.1 672.7,729.9 676,722 C679.3,714.1 683.9,704.9 685,697.5 C686.1,690.1 684.7,682.4 682.5,677.5 C680.3,672.6 673.8,669.6 672,668"/><path class="k t" d="M679,700 C678.5,703 677.8,712.2 676,718 C674.2,723.8 671.5,729.3 668,735 C664.5,740.7 657.2,749.2 655,752"/><path class="k" d="M511,795 C515.8,799.2 531,811.2 540,820 C549,828.8 559.6,840 565,847.5 C570.4,855 568.3,857.9 572.5,865 C576.7,872.1 582.9,882.5 590,890 C597.1,897.5 606.7,905.4 615,910 C623.3,914.6 631.7,916.7 640,917.5 C648.3,918.3 658.3,917.1 665,915 C671.7,912.9 675,909.2 680,905 C685,900.8 691.2,895.8 695,890 C698.8,884.2 701.7,876.7 702.5,870 C703.3,863.3 702.1,859.2 700,850 C697.9,840.8 692.1,828.3 690,815 C687.9,801.7 686.7,781.7 687.5,770 C688.3,758.3 690.4,754.2 695,745 C699.6,735.8 707.5,724.6 715,715 C722.5,705.4 733.3,696.2 740,687.5 C746.7,678.8 752.5,666.7 755,662.5"/><path class="k t" d="M750,667 C747.5,670.8 741.7,681.2 735,690 C728.3,698.8 717.2,710 710,720 C702.8,730 696.3,740.8 692,750 C687.7,759.2 685,764.2 684,775 C683,785.8 684.2,802.5 686,815 C687.8,827.5 693.2,840.8 695,850 C696.8,859.2 697.8,863.7 697,870 C696.2,876.3 691.2,885 690,888"/><path class="k t" d="M745,668 C742.5,671.7 736.5,681.3 730,690 C723.5,698.7 712.8,710 706,720 C699.2,730 693.2,740.8 689,750 C684.8,759.2 682.3,770.8 681,775"/><path class="k" d="M585,837.5 C586.7,842.1 590,857.1 595,865 C600,872.9 607.5,880.4 615,885 C622.5,889.6 631.7,891.7 640,892.5 C648.3,893.3 658.3,893.8 665,890 C671.7,886.2 677.1,878.3 680,870 C682.9,861.7 682.9,849.2 682.5,840 C682.1,830.8 678.3,819.2 677.5,815"/><path class="k t" d="M572,842 C573.3,846.3 575.3,860 580,868 C584.7,876 591.7,883.8 600,890 C608.3,896.2 620,902.5 630,905 C640,907.5 651.3,907 660,905 C668.7,903 676.2,898.8 682,893 C687.8,887.2 692.8,873.8 695,870"/><path class="k" d="M572,800 L585,837.5"/><path class="k" d="M585,837.5 L620,825 L640,818"/><path class="k t" d="M587,832 L590,843"/><path class="k t" d="M665,890 L690,893"/><path class="k t" d="M672,885 L695,887"/><path class="k t" d="M677,814 L677,842 L690,842"/><path class="k t" d="M680,836 L696,836"/><path class="k" d="M630,790 C630.3,788 630.2,781.2 632,778 C633.8,774.8 637.7,772 641,771 C644.3,770 648.8,770.5 652,772 C655.2,773.5 658.2,776.7 660,780 C661.8,783.3 662.8,787.7 662.5,792 C662.2,796.3 660.4,802.6 658,806 C655.6,809.4 651.3,811.8 648,812.5 C644.7,813.2 640.8,811.8 638,810 C635.2,808.2 632.3,805.3 631,802 C629.7,798.7 630.2,792 630,790 C629.8,788 629.7,792 630,790Z"/><ellipse class="k" cx="650" cy="790" rx="7.5" ry="12"/><ellipse class="k t" cx="651" cy="790" rx="5" ry="9"/><path class="k" d="M662,800 C663.3,798.3 667.8,792.3 670,790 C672.2,787.7 674,785.2 675,786 C676,786.8 676.5,791.3 676,795 C675.5,798.7 674.3,805.2 672,808 C669.7,810.8 663.7,811.3 662,812"/><path class="k t" d="M610,780 L620,812"/><path class="k t" d="M620,775 L628,808"/>
<path class="k" d="M1014.6,500 C1015.3,497.6 1016,490.6 1018.8,485.4 C1021.5,480.2 1027.1,472.4 1031.2,468.8 C1035.4,465.1 1039.6,464.4 1043.8,463.5 C1047.9,462.6 1052.1,462.3 1056.2,463.5 C1060.4,464.7 1064.9,467.2 1068.8,470.8 C1072.6,474.4 1076.4,479.1 1079.2,485.4 C1082,491.6 1083.7,499.6 1085.4,508.3 C1087.1,517 1088.7,528.5 1089.6,537.5 C1090.5,546.5 1090.2,556.2 1090.6,562.5 C1090.9,568.8 1091.5,564.9 1091.7,575 C1091.9,585.1 1091.4,613.3 1091.7,623 C1092,632.7 1093.8,630.2 1093.8,633.3 C1093.8,636.4 1093.4,636.8 1091.7,641.7 C1090,646.6 1085.4,658.5 1083.3,662.5 C1081.2,666.5 1079.7,665.1 1079,665.6"/><path class="k t" d="M1050,464 C1052,465 1058.3,466.5 1062,470 C1065.7,473.5 1069.2,478.7 1072,485 C1074.8,491.3 1077.2,498.8 1079,508 C1080.8,517.2 1082,529.7 1083,540 C1084,550.3 1084.5,560 1085,570 C1085.5,580 1085.7,591.3 1086,600 C1086.3,608.7 1086.8,618.3 1087,622"/><path class="k" d="M1014.6,500 C1015,509 1015.7,534.5 1016.7,554 C1017.7,573.5 1019.4,599.3 1020.8,616.7 C1022.2,634.1 1023.6,644.4 1025,658.3 C1026.4,672.2 1028.2,686.4 1029.2,700 C1030.2,713.6 1030.4,725 1031,740 C1031.6,755 1032.7,781.7 1033,790"/><path class="k" d="M1034.4,510 C1035.3,508.3 1037.7,502 1039.6,500 C1041.5,498 1043.4,497.2 1045.8,497.9 C1048.2,498.6 1051.8,500 1054.2,504.2 C1056.6,508.4 1059,514.6 1060.4,522.9 C1061.8,531.2 1062.5,542.1 1062.5,554.2 C1062.5,566.4 1061.8,586.1 1060.4,595.8 C1059,605.5 1057,608.7 1054.2,612.5 C1051.4,616.3 1046.5,618.3 1043.8,618.8 C1041,619.2 1039.4,621.5 1038,615 C1036.6,608.5 1036.1,592.5 1035.4,580 C1034.7,567.5 1034.2,551.7 1034,540 C1033.8,528.3 1034.3,515 1034.4,510 C1034.5,505 1033.5,511.7 1034.4,510Z"/><path class="k t" d="M1044,502 C1043.8,508.3 1043,527 1043,540 C1043,553 1043.7,568 1044,580 C1044.3,592 1044.8,606.7 1045,612"/><path class="k t" d="M1032.3,512 C1032.8,519 1034.2,536.8 1035.4,554.2 C1036.6,571.7 1038.7,603.9 1039.6,616.7 C1040.5,629.5 1040.8,628.6 1041,631"/><path class="k t" d="M1062,530 C1062.7,535 1065.3,549.2 1066,560 C1066.7,570.8 1067,586.3 1066,595 C1065,603.7 1061,609.2 1060,612"/><path class="k t" d="M1072,570 L1082,568"/><path class="k t" d="M1072,605 L1082,605"/><ellipse class="k" cx="1025" cy="541" rx="5" ry="13"/><ellipse class="k t" cx="1026" cy="541" rx="3.5" ry="10"/><path class="k" d="M1033.3,633.3 L1041.7,631.2 L1091.7,623"/><path class="k" d="M1033.3,633.3 L1033.3,656.2 L1041.7,664.6 L1083.3,662.5"/><path class="k t" d="M1041.7,631.2 L1041.7,664.6"/><path class="k t" d="M1070,627 L1068,663"/><path class="k t" d="M1075,625 C1075.8,623.8 1078.7,620.5 1080,618 C1081.3,615.5 1082.5,611.3 1083,610"/><path class="k" d="M1043.8,666.7 L1043.8,700"/><path class="k" d="M1054,666.7 L1056.2,700"/><path class="k" d="M1043.8,700 C1044.1,706.7 1044.6,726.4 1046,740 C1047.4,753.6 1051,774.6 1052,781.5"/><path class="k t" d="M1056.2,700 C1056.5,706.7 1057.4,729.2 1058,740 C1058.6,750.8 1059.7,760.8 1060,765"/><path class="k t" d="M1033,790 C1033.6,786.2 1035.9,771.2 1036.5,767.5"/><path class="k" d="M1033,790 C1033,793.8 1034.2,802.2 1033,813 C1031.8,823.8 1029.5,844.5 1026,855 C1022.5,865.5 1020.8,871 1012,876 C1003.2,881 987.8,883 973.5,884.8 C959.2,886.5 933.9,886.2 926,886.5"/><path class="k" d="M926,886.5 C926.3,889.6 927.1,899.2 928,905 C928.9,910.8 924.5,918.8 931.5,921.5 C938.5,924.2 957.8,923.2 970,921.5 C982.2,919.8 998.3,913.9 1005,911 C1011.7,908.1 1009.2,905.2 1010,904"/><path class="k t" d="M932,903 C938.3,903 958.7,904 970,903 C981.3,902 993.7,898.7 1000,897 C1006.3,895.3 1006.7,893.7 1008,893"/><path class="k t" d="M964.5,885.5 L965,921.5"/><path class="k t" d="M980.5,883.5 L983,918"/><path class="k t" d="M998,880 L1002,912"/><path class="k" d="M1012,876 C1010.8,880.7 1005,895.8 1005,904 C1005,912.2 1007.3,918.3 1012,925 C1016.7,931.7 1025.4,940.2 1033,944 C1040.6,947.8 1050.5,948.6 1057.5,947.8 C1064.5,946.9 1070.9,944 1075,939 C1079.1,934 1080,928.5 1082,918 C1084,907.5 1086.2,896.4 1087,876 C1087.8,855.6 1087.8,813 1087,795.5 C1086.2,778 1085.8,776 1082,771 C1078.2,766 1068.9,765.8 1064.5,765.8 C1060.1,765.8 1057.5,767.8 1055.8,771 C1054,774.2 1054.3,782.7 1054,785"/><path class="k" d="M1054,862 C1052.2,863.2 1047.6,863.2 1043.5,869 C1039.4,874.8 1032.4,888.8 1029.5,897 C1026.6,905.2 1024.8,912.2 1026,918 C1027.2,923.8 1031.8,929.1 1036.5,932 C1041.2,934.9 1050.5,936.7 1054,935.5 C1057.5,934.3 1056.9,934.9 1057.5,925 C1058.1,915.1 1058.1,886.5 1057.5,876 C1056.9,865.5 1054.6,864.3 1054,862 C1053.4,859.7 1055.8,860.8 1054,862Z"/><path class="k t" d="M1050,875 C1048.3,877.8 1042.2,885.8 1040,892 C1037.8,898.2 1037.5,908.7 1037,912"/><path class="k t" d="M1026,915 L1037,913 L1050,912"/><path class="k t" d="M1060,930 C1061.7,929.2 1067,927 1070,925 C1073,923 1076,920.5 1078,918 C1080,915.5 1081.3,911.3 1082,910"/><path class="k t" d="M1062,790 C1062.2,798.3 1063,825 1063,840 C1063,855 1062.5,865 1062,880 C1061.5,895 1060.3,921.7 1060,930"/><path class="k t" d="M1068,770 C1068.7,775 1071.3,785 1072,800 C1072.7,815 1072.3,843.3 1072,860 C1071.7,876.7 1070.7,887.5 1070,900 C1069.3,912.5 1068.3,929.2 1068,935"/><path class="k t" d="M1062,816.5 L1087,816.5"/><path class="k t" d="M1062,841 L1087,841"/><path class="k t" d="M1060,880 L1086,880"/><ellipse class="k" cx="1043.5" cy="821.8" rx="7" ry="12"/><ellipse class="k t" cx="1044" cy="822" rx="5" ry="9"/><path class="k t" d="M1033,810 C1033.5,808.3 1034.2,802.2 1036,800 C1037.8,797.8 1041.3,796.5 1044,797 C1046.7,797.5 1050.3,798.8 1052,803 C1053.7,807.2 1054.3,815.5 1054,822 C1053.7,828.5 1052,837.8 1050,842 C1048,846.2 1044.3,847.3 1042,847 C1039.7,846.7 1037,841.2 1036,840"/>
<path class="k" d="M518.3,293.3 C519.4,291.3 521.7,284.9 525,281.3 C528.3,277.8 533.2,274.1 538.3,272 C543.4,269.9 550.6,268.7 555.7,268.7 C560.8,268.7 564.8,269.9 569,272 C573.2,274.1 577.5,277.1 581,281.3 C584.5,285.5 588.2,291.5 590.3,297.3 C592.4,303.1 593.4,309.8 593.7,316 C594,322.2 592.9,330.7 592.3,334.7 C591.7,338.7 590.6,339.1 590.3,340"/><path class="k" d="M590.3,340 C589.4,342.8 586.8,351.4 585,357 C583.2,362.6 581.9,366.1 579.7,373.3 C577.5,380.5 573.7,393.8 571.7,400 C569.7,406.2 569,408 567.7,410.7 C566.4,413.4 565.3,415.1 563.7,416 C562.1,416.9 560.1,416.7 558.3,416 C556.5,415.3 554.5,414 553,412 C551.5,410 550.1,407.6 549,404 C547.9,400.4 547,394.2 546.3,390.7 C545.6,387.1 545.9,384.9 545,382.7 C544.1,380.5 543.2,379.3 541,377.3 C538.8,375.3 534.8,372.9 531.7,370.7 C528.6,368.5 524.8,366.2 522.3,364 C519.8,361.8 518.5,360.4 517,357.3 C515.5,354.2 514.1,349.3 513,345.3 C511.9,341.3 510.5,338.2 510.3,333.3 C510.1,328.4 510.8,321.1 511.7,316 C512.6,310.9 514.6,306.5 515.7,302.7 C516.8,298.9 517.9,294.9 518.3,293.3"/><ellipse class="k" cx="547.7" cy="319.3" rx="21.3" ry="34" transform="rotate(-4 547.7 319.3)"/><ellipse class="k t" cx="548.5" cy="320" rx="18.5" ry="31" transform="rotate(-4 548.5 320)"/><path class="k t" d="M542.2,281 L544.7,280.3 L547.2,280.1 L549.7,280.2 L552.2,280.8 L554.7,281.8 L557.1,283.2 L559.4,285 L561.7,287.1 L563.7,289.6 L565.6,292.4 L567.4,295.4 L568.9,298.7 L570.2,302.2 L571.3,305.9 L572.1,309.8 L572.7,313.7 L573,317.6 L573.1,321.6 L572.9,325.5 L572.4,329.4 L571.7,333.1 L570.7,336.7 L569.5,340 L568.1,343.1 L566.4,346 L564.6,348.5 L562.6,350.7 L560.4,352.5 L558.1,354 L555.8,355"/><path class="k t" d="M543.2,278.2 L546,277.5 L548.7,277.3 L551.5,277.4 L554.3,278 L557,279.1 L559.7,280.5 L562.3,282.4 L564.7,284.7 L567,287.3 L569.1,290.2 L571,293.4 L572.7,296.9 L574.2,300.7 L575.3,304.6 L576.2,308.6 L576.9,312.8 L577.2,316.9 L577.3,321.1 L577,325.3 L576.5,329.4 L575.7,333.3 L574.6,337.1 L573.2,340.6 L571.6,343.9 L569.8,346.9 L567.8,349.6 L565.5,351.9 L563.1,353.9 L560.6,355.4 L558,356.6"/><path class="k t" d="M544.2,275.5 L547.2,274.7 L550.3,274.5 L553.3,274.6 L556.4,275.3 L559.4,276.4 L562.3,277.9 L565.1,279.9 L567.8,282.2 L570.3,285 L572.6,288.1 L574.7,291.5 L576.5,295.1 L578.1,299.1 L579.4,303.2 L580.4,307.4 L581.1,311.8 L581.4,316.2 L581.5,320.7 L581.2,325.1 L580.6,329.4 L579.7,333.5 L578.5,337.5 L577,341.2 L575.2,344.7 L573.2,347.9 L570.9,350.7 L568.5,353.2 L565.9,355.3 L563.1,356.9 L560.2,358.1"/><path class="k t" d="M545.2,272.8 L548.5,272 L551.8,271.7 L555.1,271.8 L558.5,272.5 L561.7,273.6 L564.9,275.2 L568,277.3 L570.9,279.8 L573.6,282.7 L576.1,285.9 L578.4,289.5 L580.3,293.4 L582,297.5 L583.4,301.8 L584.5,306.3 L585.2,310.9 L585.6,315.5 L585.6,320.2 L585.3,324.8 L584.7,329.3 L583.7,333.7 L582.4,337.9 L580.7,341.8 L578.8,345.5 L576.6,348.9 L574.1,351.8 L571.4,354.4 L568.6,356.6 L565.5,358.4 L562.4,359.6"/><path class="k t" d="M546.2,270 L549.7,269.2 L553.3,268.9 L556.9,269 L560.5,269.7 L564.1,270.9 L567.5,272.6 L570.8,274.7 L574,277.3 L576.9,280.3 L579.6,283.8 L582,287.5 L584.2,291.6 L586,295.9 L587.5,300.4 L588.6,305.1 L589.4,309.9 L589.8,314.8 L589.8,319.7 L589.5,324.6 L588.8,329.3 L587.7,333.9 L586.2,338.3 L584.5,342.5 L582.4,346.3 L580,349.8 L577.3,353 L574.4,355.7 L571.3,358 L568,359.8 L564.6,361.2"/><path class="k t" d="M536,296 C535.3,298.3 532.7,304.3 532,310 C531.3,315.7 531.2,324.2 532,330 C532.8,335.8 536.2,342.5 537,345"/><path class="k t" d="M583.7,338.7 L561,413.3"/><path class="k t" d="M579.7,340 L558.3,413.3"/><path class="k t" d="M590.3,340 L579,340"/><path class="k t" d="M535.7,331 L545,329.3 L550.3,334.7 L554.3,345.3"/><path class="k t" d="M536,335 L546,334 L551,344"/><ellipse class="k" cx="503.3" cy="324" rx="24.8" ry="34.5" transform="rotate(-6 503.3 324)"/><ellipse class="k" cx="504" cy="324" rx="20" ry="30.5" transform="rotate(-6 504 324)"/>
<path class="k" d="M471,371 C471.7,370.3 472.8,368.5 474,369 C475.2,369.5 477.2,374.8 478,374 C478.8,373.2 478.5,366.3 479,364 C479.5,361.7 480.2,360.5 481,360 C481.8,359.5 483.3,360.2 484,361 C484.7,361.8 484.7,365.5 485,365 C485.3,364.5 485.3,359.3 486,358 C486.7,356.7 488.2,356.7 489,357 C489.8,357.3 490.7,358.5 491,360 C491.3,361.5 490.8,365.8 491,366 C491.2,366.2 491.3,361.8 492,361 C492.7,360.2 494.2,360.3 495,361 C495.8,361.7 496.7,363.2 497,365 C497.3,366.8 496.8,371.5 497,372 C497.2,372.5 497.5,368.5 498,368 C498.5,367.5 499.7,367.5 500,369 C500.3,370.5 500.5,374.3 500,377 C499.5,379.7 498.5,382.8 497,385 C495.5,387.2 493.3,389.2 491,390 C488.7,390.8 485.3,390.8 483,390 C480.7,389.2 478.8,387 477,385 C475.2,383 473.2,380 472,378 C470.8,376 470.2,374.2 470,373 C469.8,371.8 470.3,371.7 471,371Z"/><path class="k t" d="M485,365 L485,375"/><path class="k t" d="M491,366 L491,375"/>
<g transform="translate(33 520.5) rotate(-15.5)"><ellipse class="k" cx="0" cy="0" rx="9" ry="16.5"/><ellipse class="k t" cx="0.5" cy="0" rx="7.4" ry="14"/><path class="k t" d="M-9,0 L80,0"/><path class="k" d="M0,-16.5 L9,-16.5 A9,16.5 0 0 1 9,16.5 L0,16.5"/><path class="k" d="M16.2,-10 L80,-10"/><path class="k" d="M16.2,10 L80,10"/><ellipse class="k" cx="80" cy="0" rx="5.5" ry="10"/></g>
<g transform="translate(453 815.5) rotate(-7)"><ellipse class="k" cx="0" cy="0" rx="13.5" ry="19.5"/><ellipse class="k t" cx="0.5" cy="0" rx="11.1" ry="16.6"/><ellipse class="k t" cx="0" cy="0" rx="4.7" ry="6.8"/><path class="k t" d="M-4.7,0 L4.7,0"/><path class="k" d="M0,-19.5 L3,-19.5 A13.5,19.5 0 0 1 3,19.5 L0,19.5"/><path class="k" d="M13.4,-12.5 L58,-12.5"/><path class="k" d="M13.4,12.5 L58,12.5"/><path class="k" d="M58,-12.5 A8.7,12.5 0 0 1 58,12.5"/></g>
<ellipse class="k" cx="1153.7" cy="453.7" rx="13.7" ry="20.3" transform="rotate(-3 1153.7 453.7)"/>
<path class="k" d="M1146.7,442.7 C1148,443.8 1153.2,446.9 1154.7,449.3 C1156.2,451.7 1156.2,454.4 1156,457.3 C1155.8,460.2 1154.8,464.5 1153.3,466.7 C1151.8,468.9 1147.8,470 1146.7,470.7"/>
<path class="k" d="M1098.7,447.3 L1145,442.3"/>
<path class="k" d="M1102.7,472.5 L1147,467.5"/>
<ellipse class="k" cx="1097.3" cy="460" rx="8" ry="12.7" transform="rotate(-3 1097.3 460)"/>
<path class="k t" d="M1102.7,448.3 C1103.5,449.4 1106.6,452.9 1107.5,455 C1108.4,457.1 1108.4,458.2 1108,461 C1107.6,463.8 1105.8,470.2 1105.3,472"/>
</svg></body></html>
